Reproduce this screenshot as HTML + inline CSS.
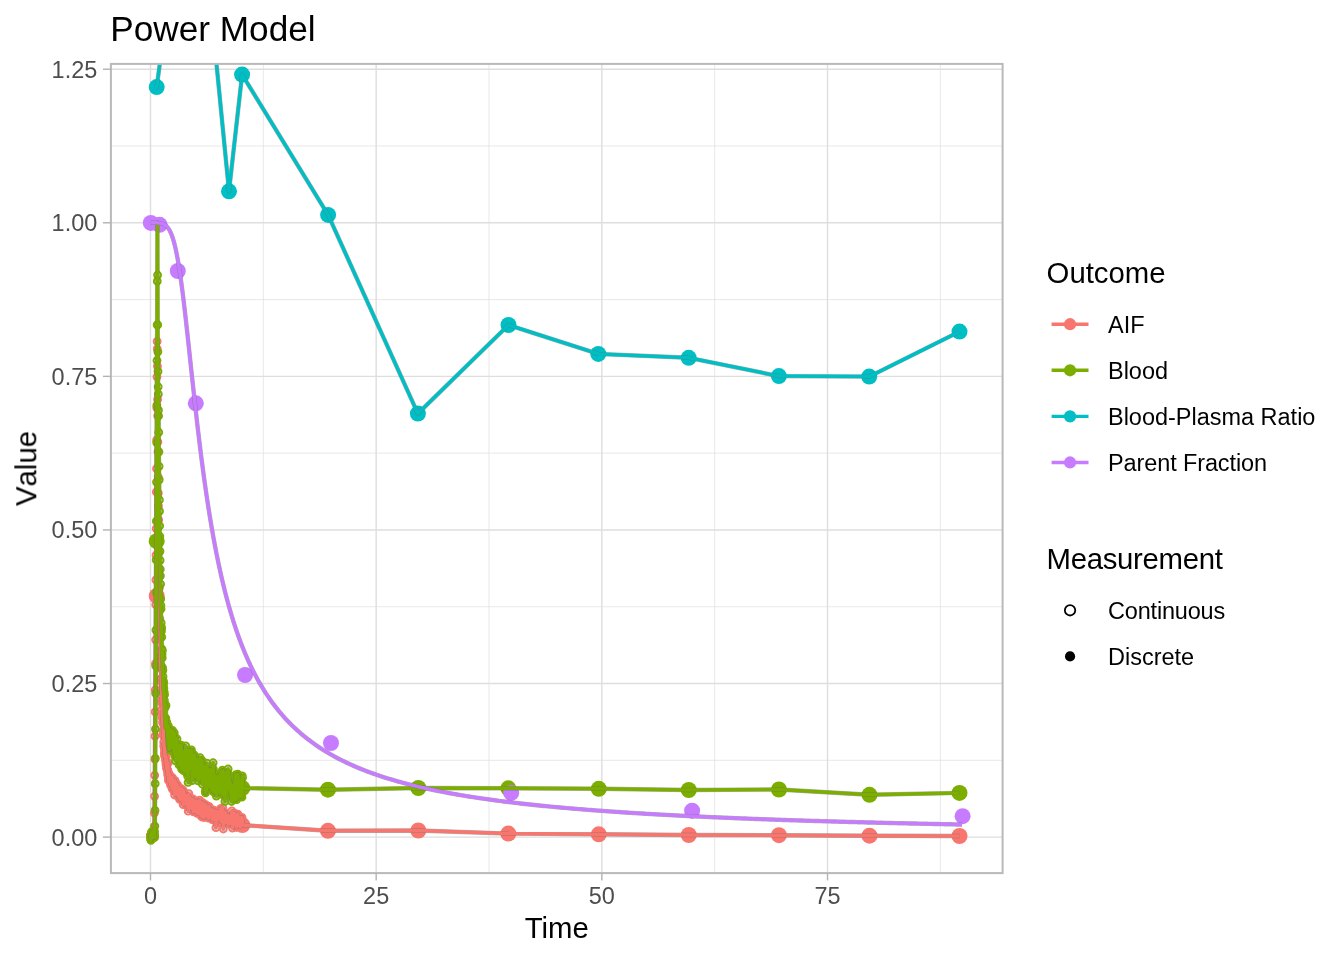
<!DOCTYPE html>
<html><head><meta charset="utf-8"><title>Power Model</title>
<style>html,body{margin:0;padding:0;background:#fff;width:1344px;height:960px;overflow:hidden}</style></head>
<body>
<svg width="1344" height="960" viewBox="0 0 1344 960" style="position:absolute;left:0;top:0;font-family:'Liberation Sans',sans-serif">
<rect width="1344" height="960" fill="#fff"/>
<defs><clipPath id="cp"><rect x="110.9" y="63.9" width="891.7" height="809.2"/></clipPath></defs>
<g clip-path="url(#cp)">
<line x1="110.9" x2="1002.6" y1="760.31" y2="760.31" stroke="#DEDEDE" stroke-width="0.71"/>
<line x1="110.9" x2="1002.6" y1="606.74" y2="606.74" stroke="#DEDEDE" stroke-width="0.71"/>
<line x1="110.9" x2="1002.6" y1="453.16" y2="453.16" stroke="#DEDEDE" stroke-width="0.71"/>
<line x1="110.9" x2="1002.6" y1="299.59" y2="299.59" stroke="#DEDEDE" stroke-width="0.71"/>
<line x1="110.9" x2="1002.6" y1="146.01" y2="146.01" stroke="#DEDEDE" stroke-width="0.71"/>
<line y1="63.9" y2="873.1" x1="263.34" x2="263.34" stroke="#DEDEDE" stroke-width="0.71"/>
<line y1="63.9" y2="873.1" x1="489.01" x2="489.01" stroke="#DEDEDE" stroke-width="0.71"/>
<line y1="63.9" y2="873.1" x1="714.69" x2="714.69" stroke="#DEDEDE" stroke-width="0.71"/>
<line y1="63.9" y2="873.1" x1="940.36" x2="940.36" stroke="#DEDEDE" stroke-width="0.71"/>
<line x1="110.9" x2="1002.6" y1="837.10" y2="837.10" stroke="#DEDEDE" stroke-width="1.42"/>
<line x1="110.9" x2="1002.6" y1="683.53" y2="683.53" stroke="#DEDEDE" stroke-width="1.42"/>
<line x1="110.9" x2="1002.6" y1="529.95" y2="529.95" stroke="#DEDEDE" stroke-width="1.42"/>
<line x1="110.9" x2="1002.6" y1="376.38" y2="376.38" stroke="#DEDEDE" stroke-width="1.42"/>
<line x1="110.9" x2="1002.6" y1="222.80" y2="222.80" stroke="#DEDEDE" stroke-width="1.42"/>
<line x1="110.9" x2="1002.6" y1="69.23" y2="69.23" stroke="#DEDEDE" stroke-width="1.42"/>
<line y1="63.9" y2="873.1" x1="150.50" x2="150.50" stroke="#DEDEDE" stroke-width="1.42"/>
<line y1="63.9" y2="873.1" x1="376.17" x2="376.17" stroke="#DEDEDE" stroke-width="1.42"/>
<line y1="63.9" y2="873.1" x1="601.85" x2="601.85" stroke="#DEDEDE" stroke-width="1.42"/>
<line y1="63.9" y2="873.1" x1="827.52" x2="827.52" stroke="#DEDEDE" stroke-width="1.42"/>
<g fill="none" stroke="#F8766D" stroke-width="1.95"><circle cx="150.50" cy="835.69" r="3.45"/><circle cx="150.65" cy="834.82" r="3.45"/><circle cx="150.80" cy="834.83" r="3.45"/><circle cx="150.95" cy="835.60" r="3.45"/><circle cx="151.10" cy="834.73" r="3.45"/><circle cx="151.25" cy="835.79" r="3.45"/><circle cx="151.40" cy="833.95" r="3.45"/><circle cx="151.55" cy="835.81" r="3.45"/><circle cx="151.70" cy="838.85" r="3.45"/><circle cx="151.85" cy="833.51" r="3.45"/><circle cx="152.00" cy="835.30" r="3.45"/><circle cx="152.15" cy="837.16" r="3.45"/><circle cx="152.31" cy="835.56" r="3.45"/><circle cx="152.46" cy="836.51" r="3.45"/><circle cx="152.61" cy="831.83" r="3.45"/><circle cx="152.76" cy="834.19" r="3.45"/><circle cx="152.91" cy="837.26" r="3.45"/><circle cx="153.06" cy="833.91" r="3.45"/><circle cx="153.21" cy="835.26" r="3.45"/><circle cx="153.36" cy="831.60" r="3.45"/><circle cx="153.51" cy="836.05" r="3.45"/><circle cx="153.66" cy="837.79" r="3.45"/><circle cx="153.81" cy="834.13" r="3.45"/><circle cx="153.96" cy="834.67" r="3.45"/><circle cx="154.11" cy="833.34" r="3.45"/><circle cx="154.26" cy="826.69" r="3.45"/><circle cx="154.41" cy="813.01" r="3.45"/><circle cx="154.56" cy="796.35" r="3.45"/><circle cx="154.71" cy="775.36" r="3.45"/><circle cx="154.86" cy="759.15" r="3.45"/><circle cx="155.01" cy="736.17" r="3.45"/><circle cx="155.16" cy="711.88" r="3.45"/><circle cx="155.31" cy="689.84" r="3.45"/><circle cx="155.46" cy="663.64" r="3.45"/><circle cx="155.62" cy="639.79" r="3.45"/><circle cx="155.77" cy="604.65" r="3.45"/><circle cx="155.92" cy="579.91" r="3.45"/><circle cx="156.07" cy="555.16" r="3.45"/><circle cx="156.22" cy="528.51" r="3.45"/><circle cx="156.37" cy="491.95" r="3.45"/><circle cx="156.52" cy="468.70" r="3.45"/><circle cx="156.67" cy="439.97" r="3.45"/><circle cx="156.82" cy="407.99" r="3.45"/><circle cx="156.97" cy="376.81" r="3.45"/><circle cx="157.12" cy="341.41" r="3.45"/><circle cx="157.27" cy="348.88" r="3.45"/><circle cx="157.42" cy="366.25" r="3.45"/><circle cx="157.57" cy="399.40" r="3.45"/><circle cx="157.72" cy="415.80" r="3.45"/><circle cx="157.87" cy="441.98" r="3.45"/><circle cx="158.02" cy="451.70" r="3.45"/><circle cx="158.17" cy="477.08" r="3.45"/><circle cx="158.32" cy="493.22" r="3.45"/><circle cx="158.47" cy="505.96" r="3.45"/><circle cx="158.62" cy="519.97" r="3.45"/><circle cx="158.77" cy="542.21" r="3.45"/><circle cx="158.93" cy="553.04" r="3.45"/><circle cx="159.08" cy="569.21" r="3.45"/><circle cx="159.23" cy="575.94" r="3.45"/><circle cx="159.38" cy="587.95" r="3.45"/><circle cx="159.53" cy="599.35" r="3.45"/><circle cx="159.68" cy="610.44" r="3.45"/><circle cx="159.83" cy="618.80" r="3.45"/><circle cx="159.98" cy="628.86" r="3.45"/><circle cx="160.13" cy="632.88" r="3.45"/><circle cx="160.28" cy="637.40" r="3.45"/><circle cx="160.43" cy="656.45" r="3.45"/><circle cx="160.58" cy="657.30" r="3.45"/><circle cx="160.73" cy="664.91" r="3.45"/><circle cx="160.88" cy="668.04" r="3.45"/><circle cx="161.03" cy="678.78" r="3.45"/><circle cx="161.18" cy="681.59" r="3.45"/><circle cx="161.33" cy="689.83" r="3.45"/><circle cx="161.48" cy="688.89" r="3.45"/><circle cx="161.63" cy="695.56" r="3.45"/><circle cx="161.78" cy="700.84" r="3.45"/><circle cx="161.93" cy="703.19" r="3.45"/><circle cx="162.08" cy="709.20" r="3.45"/><circle cx="162.24" cy="717.32" r="3.45"/><circle cx="162.39" cy="713.56" r="3.45"/><circle cx="162.54" cy="717.91" r="3.45"/><circle cx="162.69" cy="722.54" r="3.45"/><circle cx="162.84" cy="721.66" r="3.45"/><circle cx="162.99" cy="723.68" r="3.45"/><circle cx="163.14" cy="734.14" r="3.45"/><circle cx="163.29" cy="735.61" r="3.45"/><circle cx="163.44" cy="730.12" r="3.45"/><circle cx="163.59" cy="732.82" r="3.45"/><circle cx="163.74" cy="742.25" r="3.45"/><circle cx="163.89" cy="745.78" r="3.45"/><circle cx="164.04" cy="745.87" r="3.45"/><circle cx="164.19" cy="747.23" r="3.45"/><circle cx="164.34" cy="752.64" r="3.45"/><circle cx="164.49" cy="748.83" r="3.45"/><circle cx="164.64" cy="754.83" r="3.45"/><circle cx="164.79" cy="756.09" r="3.45"/><circle cx="164.94" cy="750.33" r="3.45"/><circle cx="165.09" cy="757.08" r="3.45"/><circle cx="165.24" cy="756.31" r="3.45"/><circle cx="165.39" cy="755.17" r="3.45"/><circle cx="165.54" cy="755.72" r="3.45"/><circle cx="165.70" cy="760.72" r="3.45"/><circle cx="165.85" cy="760.50" r="3.45"/><circle cx="166.00" cy="764.46" r="3.45"/><circle cx="166.15" cy="756.74" r="3.45"/><circle cx="166.30" cy="761.38" r="3.45"/><circle cx="166.45" cy="768.20" r="3.45"/><circle cx="166.60" cy="765.31" r="3.45"/><circle cx="166.75" cy="763.74" r="3.45"/><circle cx="166.90" cy="765.31" r="3.45"/><circle cx="167.05" cy="761.51" r="3.45"/><circle cx="167.20" cy="763.78" r="3.45"/><circle cx="167.35" cy="770.93" r="3.45"/><circle cx="167.50" cy="770.08" r="3.45"/><circle cx="167.65" cy="774.76" r="3.45"/><circle cx="167.80" cy="770.21" r="3.45"/><circle cx="167.95" cy="771.14" r="3.45"/><circle cx="168.10" cy="763.09" r="3.45"/><circle cx="168.25" cy="772.46" r="3.45"/><circle cx="168.40" cy="780.40" r="3.45"/><circle cx="168.55" cy="776.12" r="3.45"/><circle cx="168.70" cy="773.97" r="3.45"/><circle cx="168.85" cy="779.09" r="3.45"/><circle cx="169.01" cy="778.25" r="3.45"/><circle cx="169.16" cy="777.01" r="3.45"/><circle cx="169.31" cy="775.07" r="3.45"/><circle cx="169.46" cy="777.22" r="3.45"/><circle cx="169.61" cy="780.08" r="3.45"/><circle cx="169.76" cy="774.83" r="3.45"/><circle cx="169.91" cy="779.71" r="3.45"/><circle cx="170.06" cy="779.96" r="3.45"/><circle cx="170.21" cy="783.32" r="3.45"/><circle cx="170.36" cy="781.68" r="3.45"/><circle cx="170.51" cy="777.19" r="3.45"/><circle cx="170.66" cy="785.21" r="3.45"/><circle cx="170.81" cy="780.33" r="3.45"/><circle cx="170.96" cy="778.00" r="3.45"/><circle cx="171.11" cy="782.03" r="3.45"/><circle cx="171.26" cy="780.27" r="3.45"/><circle cx="171.41" cy="785.17" r="3.45"/><circle cx="171.56" cy="777.28" r="3.45"/><circle cx="171.71" cy="778.29" r="3.45"/><circle cx="171.86" cy="781.51" r="3.45"/><circle cx="172.01" cy="788.53" r="3.45"/><circle cx="172.16" cy="786.42" r="3.45"/><circle cx="172.32" cy="779.87" r="3.45"/><circle cx="172.47" cy="777.66" r="3.45"/><circle cx="172.62" cy="782.72" r="3.45"/><circle cx="172.77" cy="779.78" r="3.45"/><circle cx="172.92" cy="786.31" r="3.45"/><circle cx="173.07" cy="785.16" r="3.45"/><circle cx="173.22" cy="784.78" r="3.45"/><circle cx="173.37" cy="783.60" r="3.45"/><circle cx="173.52" cy="790.45" r="3.45"/><circle cx="173.67" cy="782.35" r="3.45"/><circle cx="173.82" cy="781.31" r="3.45"/><circle cx="173.97" cy="789.90" r="3.45"/><circle cx="174.12" cy="790.83" r="3.45"/><circle cx="174.27" cy="785.30" r="3.45"/><circle cx="174.42" cy="788.93" r="3.45"/><circle cx="174.57" cy="794.96" r="3.45"/><circle cx="174.72" cy="784.45" r="3.45"/><circle cx="174.87" cy="786.88" r="3.45"/><circle cx="175.02" cy="789.23" r="3.45"/><circle cx="175.17" cy="780.70" r="3.45"/><circle cx="175.32" cy="787.59" r="3.45"/><circle cx="175.47" cy="790.82" r="3.45"/><circle cx="175.63" cy="788.15" r="3.45"/><circle cx="175.78" cy="792.21" r="3.45"/><circle cx="175.93" cy="791.48" r="3.45"/><circle cx="176.08" cy="787.81" r="3.45"/><circle cx="176.23" cy="791.19" r="3.45"/><circle cx="176.38" cy="791.04" r="3.45"/><circle cx="176.53" cy="784.08" r="3.45"/><circle cx="176.68" cy="787.02" r="3.45"/><circle cx="176.83" cy="787.41" r="3.45"/><circle cx="176.98" cy="788.53" r="3.45"/><circle cx="177.13" cy="788.87" r="3.45"/><circle cx="177.28" cy="785.78" r="3.45"/><circle cx="177.43" cy="790.96" r="3.45"/><circle cx="177.58" cy="784.81" r="3.45"/><circle cx="177.73" cy="794.48" r="3.45"/><circle cx="177.88" cy="792.32" r="3.45"/><circle cx="178.03" cy="796.30" r="3.45"/><circle cx="178.18" cy="792.98" r="3.45"/><circle cx="178.33" cy="790.25" r="3.45"/><circle cx="178.48" cy="787.28" r="3.45"/><circle cx="178.63" cy="794.60" r="3.45"/><circle cx="178.78" cy="792.52" r="3.45"/><circle cx="178.94" cy="793.93" r="3.45"/><circle cx="179.09" cy="795.39" r="3.45"/><circle cx="179.24" cy="797.08" r="3.45"/><circle cx="179.39" cy="793.03" r="3.45"/><circle cx="179.54" cy="799.26" r="3.45"/><circle cx="179.69" cy="793.21" r="3.45"/><circle cx="179.84" cy="793.68" r="3.45"/><circle cx="179.99" cy="796.14" r="3.45"/><circle cx="180.14" cy="797.50" r="3.45"/><circle cx="180.29" cy="798.92" r="3.45"/><circle cx="180.44" cy="788.09" r="3.45"/><circle cx="180.59" cy="799.11" r="3.45"/><circle cx="180.74" cy="789.47" r="3.45"/><circle cx="180.89" cy="792.87" r="3.45"/><circle cx="181.04" cy="796.29" r="3.45"/><circle cx="181.19" cy="799.13" r="3.45"/><circle cx="181.34" cy="791.85" r="3.45"/><circle cx="181.49" cy="789.69" r="3.45"/><circle cx="181.64" cy="798.84" r="3.45"/><circle cx="181.79" cy="796.85" r="3.45"/><circle cx="181.94" cy="792.44" r="3.45"/><circle cx="182.09" cy="795.01" r="3.45"/><circle cx="182.24" cy="789.54" r="3.45"/><circle cx="182.40" cy="798.37" r="3.45"/><circle cx="182.55" cy="794.76" r="3.45"/><circle cx="182.70" cy="800.97" r="3.45"/><circle cx="182.85" cy="789.81" r="3.45"/><circle cx="183.00" cy="799.51" r="3.45"/><circle cx="183.15" cy="804.65" r="3.45"/><circle cx="183.30" cy="797.75" r="3.45"/><circle cx="183.45" cy="797.94" r="3.45"/><circle cx="183.60" cy="791.14" r="3.45"/><circle cx="183.75" cy="798.90" r="3.45"/><circle cx="183.90" cy="797.94" r="3.45"/><circle cx="184.05" cy="796.03" r="3.45"/><circle cx="184.20" cy="792.82" r="3.45"/><circle cx="184.35" cy="798.53" r="3.45"/><circle cx="184.50" cy="794.94" r="3.45"/><circle cx="184.65" cy="796.84" r="3.45"/><circle cx="184.80" cy="799.73" r="3.45"/><circle cx="184.95" cy="798.60" r="3.45"/><circle cx="185.10" cy="798.90" r="3.45"/><circle cx="185.25" cy="802.23" r="3.45"/><circle cx="185.40" cy="795.16" r="3.45"/><circle cx="185.55" cy="804.08" r="3.45"/><circle cx="185.71" cy="795.57" r="3.45"/><circle cx="185.86" cy="796.43" r="3.45"/><circle cx="186.01" cy="800.10" r="3.45"/><circle cx="186.16" cy="802.50" r="3.45"/><circle cx="186.31" cy="800.81" r="3.45"/><circle cx="186.46" cy="798.57" r="3.45"/><circle cx="186.61" cy="797.78" r="3.45"/><circle cx="186.76" cy="799.45" r="3.45"/><circle cx="186.91" cy="797.19" r="3.45"/><circle cx="187.06" cy="802.55" r="3.45"/><circle cx="187.21" cy="800.00" r="3.45"/><circle cx="187.36" cy="806.21" r="3.45"/><circle cx="187.51" cy="798.46" r="3.45"/><circle cx="187.66" cy="800.64" r="3.45"/><circle cx="187.81" cy="802.68" r="3.45"/><circle cx="187.96" cy="797.47" r="3.45"/><circle cx="188.11" cy="799.18" r="3.45"/><circle cx="188.26" cy="811.15" r="3.45"/><circle cx="188.41" cy="801.62" r="3.45"/><circle cx="188.56" cy="806.78" r="3.45"/><circle cx="188.71" cy="798.38" r="3.45"/><circle cx="188.86" cy="793.69" r="3.45"/><circle cx="189.02" cy="803.97" r="3.45"/><circle cx="189.17" cy="802.08" r="3.45"/><circle cx="189.32" cy="803.29" r="3.45"/><circle cx="189.47" cy="801.37" r="3.45"/><circle cx="189.62" cy="800.49" r="3.45"/><circle cx="189.77" cy="798.43" r="3.45"/><circle cx="189.92" cy="806.22" r="3.45"/><circle cx="190.07" cy="797.69" r="3.45"/><circle cx="190.22" cy="806.26" r="3.45"/><circle cx="190.37" cy="802.28" r="3.45"/><circle cx="190.52" cy="799.41" r="3.45"/><circle cx="190.67" cy="801.02" r="3.45"/><circle cx="190.82" cy="806.71" r="3.45"/><circle cx="190.97" cy="806.02" r="3.45"/><circle cx="191.12" cy="805.31" r="3.45"/><circle cx="191.27" cy="804.03" r="3.45"/><circle cx="191.42" cy="800.09" r="3.45"/><circle cx="191.57" cy="808.43" r="3.45"/><circle cx="191.72" cy="802.59" r="3.45"/><circle cx="191.87" cy="802.21" r="3.45"/><circle cx="192.02" cy="802.49" r="3.45"/><circle cx="192.17" cy="802.90" r="3.45"/><circle cx="192.33" cy="799.44" r="3.45"/><circle cx="192.48" cy="803.03" r="3.45"/><circle cx="192.63" cy="801.88" r="3.45"/><circle cx="192.78" cy="802.97" r="3.45"/><circle cx="192.93" cy="798.91" r="3.45"/><circle cx="193.08" cy="811.49" r="3.45"/><circle cx="193.23" cy="800.84" r="3.45"/><circle cx="193.38" cy="806.15" r="3.45"/><circle cx="193.53" cy="806.31" r="3.45"/><circle cx="193.68" cy="808.73" r="3.45"/><circle cx="193.83" cy="811.87" r="3.45"/><circle cx="193.98" cy="806.94" r="3.45"/><circle cx="194.13" cy="808.06" r="3.45"/><circle cx="194.28" cy="804.17" r="3.45"/><circle cx="194.43" cy="810.90" r="3.45"/><circle cx="194.58" cy="801.18" r="3.45"/><circle cx="194.73" cy="805.19" r="3.45"/><circle cx="194.88" cy="807.04" r="3.45"/><circle cx="195.03" cy="808.69" r="3.45"/><circle cx="195.18" cy="809.05" r="3.45"/><circle cx="195.33" cy="810.29" r="3.45"/><circle cx="195.48" cy="808.41" r="3.45"/><circle cx="195.63" cy="806.63" r="3.45"/><circle cx="195.79" cy="807.34" r="3.45"/><circle cx="195.94" cy="811.61" r="3.45"/><circle cx="196.09" cy="807.82" r="3.45"/><circle cx="196.24" cy="810.02" r="3.45"/><circle cx="196.39" cy="806.55" r="3.45"/><circle cx="196.54" cy="800.88" r="3.45"/><circle cx="196.69" cy="805.15" r="3.45"/><circle cx="196.84" cy="808.41" r="3.45"/><circle cx="196.99" cy="812.93" r="3.45"/><circle cx="197.14" cy="812.30" r="3.45"/><circle cx="197.29" cy="813.30" r="3.45"/><circle cx="197.44" cy="805.23" r="3.45"/><circle cx="197.59" cy="810.36" r="3.45"/><circle cx="197.74" cy="807.64" r="3.45"/><circle cx="197.89" cy="810.04" r="3.45"/><circle cx="198.04" cy="807.71" r="3.45"/><circle cx="198.19" cy="803.36" r="3.45"/><circle cx="198.34" cy="810.49" r="3.45"/><circle cx="198.49" cy="809.41" r="3.45"/><circle cx="198.64" cy="811.06" r="3.45"/><circle cx="198.79" cy="805.46" r="3.45"/><circle cx="198.94" cy="811.96" r="3.45"/><circle cx="199.10" cy="812.40" r="3.45"/><circle cx="199.25" cy="813.34" r="3.45"/><circle cx="199.40" cy="813.49" r="3.45"/><circle cx="199.55" cy="807.22" r="3.45"/><circle cx="199.70" cy="800.21" r="3.45"/><circle cx="199.85" cy="812.33" r="3.45"/><circle cx="200.00" cy="805.82" r="3.45"/><circle cx="200.15" cy="808.27" r="3.45"/><circle cx="200.30" cy="812.91" r="3.45"/><circle cx="200.45" cy="810.20" r="3.45"/><circle cx="200.60" cy="810.13" r="3.45"/><circle cx="200.75" cy="811.75" r="3.45"/><circle cx="200.90" cy="802.96" r="3.45"/><circle cx="201.05" cy="816.00" r="3.45"/><circle cx="201.20" cy="808.35" r="3.45"/><circle cx="201.35" cy="808.59" r="3.45"/><circle cx="201.50" cy="811.74" r="3.45"/><circle cx="201.65" cy="809.35" r="3.45"/><circle cx="201.80" cy="806.96" r="3.45"/><circle cx="201.95" cy="809.48" r="3.45"/><circle cx="202.10" cy="808.65" r="3.45"/><circle cx="202.25" cy="807.79" r="3.45"/><circle cx="202.41" cy="817.07" r="3.45"/><circle cx="202.56" cy="805.28" r="3.45"/><circle cx="202.71" cy="802.65" r="3.45"/><circle cx="202.86" cy="807.10" r="3.45"/><circle cx="203.01" cy="807.06" r="3.45"/><circle cx="203.16" cy="815.31" r="3.45"/><circle cx="203.31" cy="811.02" r="3.45"/><circle cx="203.46" cy="813.43" r="3.45"/><circle cx="203.61" cy="812.74" r="3.45"/><circle cx="203.76" cy="807.55" r="3.45"/><circle cx="203.91" cy="813.60" r="3.45"/><circle cx="204.06" cy="811.39" r="3.45"/><circle cx="204.21" cy="817.47" r="3.45"/><circle cx="204.36" cy="811.62" r="3.45"/><circle cx="204.51" cy="810.84" r="3.45"/><circle cx="204.66" cy="813.60" r="3.45"/><circle cx="204.81" cy="813.71" r="3.45"/><circle cx="204.96" cy="804.97" r="3.45"/><circle cx="205.11" cy="815.49" r="3.45"/><circle cx="205.26" cy="815.02" r="3.45"/><circle cx="205.41" cy="814.27" r="3.45"/><circle cx="205.56" cy="807.55" r="3.45"/><circle cx="205.72" cy="804.56" r="3.45"/><circle cx="205.87" cy="810.60" r="3.45"/><circle cx="206.02" cy="814.21" r="3.45"/><circle cx="206.17" cy="813.29" r="3.45"/><circle cx="206.32" cy="808.31" r="3.45"/><circle cx="206.47" cy="815.05" r="3.45"/><circle cx="206.62" cy="807.12" r="3.45"/><circle cx="206.77" cy="807.30" r="3.45"/><circle cx="206.92" cy="811.91" r="3.45"/><circle cx="207.07" cy="810.03" r="3.45"/><circle cx="207.22" cy="809.74" r="3.45"/><circle cx="207.37" cy="807.08" r="3.45"/><circle cx="207.52" cy="815.94" r="3.45"/><circle cx="207.67" cy="808.46" r="3.45"/><circle cx="207.82" cy="813.77" r="3.45"/><circle cx="207.97" cy="815.16" r="3.45"/><circle cx="208.12" cy="812.27" r="3.45"/><circle cx="208.27" cy="813.40" r="3.45"/><circle cx="208.42" cy="816.07" r="3.45"/><circle cx="208.57" cy="818.19" r="3.45"/><circle cx="208.72" cy="816.03" r="3.45"/><circle cx="208.87" cy="808.00" r="3.45"/><circle cx="209.03" cy="806.33" r="3.45"/><circle cx="209.18" cy="810.82" r="3.45"/><circle cx="209.33" cy="809.07" r="3.45"/><circle cx="209.48" cy="814.88" r="3.45"/><circle cx="209.63" cy="813.45" r="3.45"/><circle cx="209.78" cy="812.29" r="3.45"/><circle cx="209.93" cy="816.95" r="3.45"/><circle cx="210.08" cy="816.70" r="3.45"/><circle cx="210.23" cy="813.08" r="3.45"/><circle cx="210.38" cy="814.54" r="3.45"/><circle cx="210.53" cy="817.11" r="3.45"/><circle cx="210.68" cy="812.26" r="3.45"/><circle cx="210.83" cy="814.51" r="3.45"/><circle cx="210.98" cy="810.22" r="3.45"/><circle cx="211.13" cy="813.74" r="3.45"/><circle cx="211.28" cy="814.79" r="3.45"/><circle cx="211.43" cy="813.40" r="3.45"/><circle cx="211.58" cy="814.46" r="3.45"/><circle cx="211.73" cy="816.19" r="3.45"/><circle cx="211.88" cy="815.34" r="3.45"/><circle cx="212.03" cy="811.51" r="3.45"/><circle cx="212.18" cy="811.90" r="3.45"/><circle cx="212.33" cy="809.79" r="3.45"/><circle cx="212.49" cy="819.91" r="3.45"/><circle cx="212.64" cy="815.57" r="3.45"/><circle cx="212.79" cy="815.69" r="3.45"/><circle cx="212.94" cy="813.76" r="3.45"/><circle cx="213.09" cy="815.92" r="3.45"/><circle cx="213.24" cy="816.17" r="3.45"/><circle cx="213.39" cy="811.84" r="3.45"/><circle cx="213.54" cy="813.94" r="3.45"/><circle cx="213.69" cy="818.53" r="3.45"/><circle cx="213.84" cy="810.13" r="3.45"/><circle cx="213.99" cy="811.32" r="3.45"/><circle cx="214.14" cy="816.67" r="3.45"/><circle cx="214.29" cy="811.97" r="3.45"/><circle cx="214.44" cy="817.31" r="3.45"/><circle cx="214.59" cy="811.07" r="3.45"/><circle cx="214.74" cy="815.66" r="3.45"/><circle cx="214.89" cy="817.68" r="3.45"/><circle cx="215.04" cy="816.28" r="3.45"/><circle cx="215.19" cy="817.65" r="3.45"/><circle cx="215.34" cy="814.46" r="3.45"/><circle cx="215.49" cy="814.57" r="3.45"/><circle cx="215.64" cy="815.08" r="3.45"/><circle cx="215.80" cy="817.13" r="3.45"/><circle cx="215.95" cy="827.67" r="3.45"/><circle cx="216.10" cy="815.03" r="3.45"/><circle cx="216.25" cy="821.79" r="3.45"/><circle cx="216.40" cy="814.61" r="3.45"/><circle cx="216.55" cy="811.66" r="3.45"/><circle cx="216.70" cy="814.60" r="3.45"/><circle cx="216.85" cy="816.88" r="3.45"/><circle cx="217.00" cy="816.22" r="3.45"/><circle cx="217.15" cy="816.11" r="3.45"/><circle cx="217.30" cy="817.56" r="3.45"/><circle cx="217.45" cy="817.72" r="3.45"/><circle cx="217.60" cy="818.91" r="3.45"/><circle cx="217.75" cy="811.82" r="3.45"/><circle cx="217.90" cy="815.93" r="3.45"/><circle cx="218.05" cy="812.69" r="3.45"/><circle cx="218.20" cy="816.81" r="3.45"/><circle cx="218.35" cy="815.76" r="3.45"/><circle cx="218.50" cy="816.62" r="3.45"/><circle cx="218.65" cy="814.53" r="3.45"/><circle cx="218.80" cy="813.34" r="3.45"/><circle cx="218.95" cy="815.36" r="3.45"/><circle cx="219.11" cy="818.49" r="3.45"/><circle cx="219.26" cy="818.89" r="3.45"/><circle cx="219.41" cy="810.69" r="3.45"/><circle cx="219.56" cy="817.29" r="3.45"/><circle cx="219.71" cy="817.37" r="3.45"/><circle cx="219.86" cy="811.47" r="3.45"/><circle cx="220.01" cy="812.79" r="3.45"/><circle cx="220.16" cy="814.70" r="3.45"/><circle cx="220.31" cy="817.89" r="3.45"/><circle cx="220.46" cy="808.63" r="3.45"/><circle cx="220.61" cy="815.30" r="3.45"/><circle cx="220.76" cy="814.82" r="3.45"/><circle cx="220.91" cy="817.28" r="3.45"/><circle cx="221.06" cy="821.52" r="3.45"/><circle cx="221.21" cy="821.30" r="3.45"/><circle cx="221.36" cy="815.45" r="3.45"/><circle cx="221.51" cy="815.54" r="3.45"/><circle cx="221.66" cy="817.71" r="3.45"/><circle cx="221.81" cy="820.90" r="3.45"/><circle cx="221.96" cy="821.85" r="3.45"/><circle cx="222.11" cy="818.13" r="3.45"/><circle cx="222.26" cy="821.98" r="3.45"/><circle cx="222.42" cy="814.06" r="3.45"/><circle cx="222.57" cy="813.24" r="3.45"/><circle cx="222.72" cy="807.62" r="3.45"/><circle cx="222.87" cy="814.24" r="3.45"/><circle cx="223.02" cy="819.25" r="3.45"/><circle cx="223.17" cy="820.23" r="3.45"/><circle cx="223.32" cy="828.99" r="3.45"/><circle cx="223.47" cy="819.37" r="3.45"/><circle cx="223.62" cy="818.00" r="3.45"/><circle cx="223.77" cy="814.17" r="3.45"/><circle cx="223.92" cy="815.41" r="3.45"/><circle cx="224.07" cy="815.52" r="3.45"/><circle cx="224.22" cy="816.83" r="3.45"/><circle cx="224.37" cy="815.35" r="3.45"/><circle cx="224.52" cy="812.73" r="3.45"/><circle cx="224.67" cy="821.25" r="3.45"/><circle cx="224.82" cy="819.24" r="3.45"/><circle cx="224.97" cy="822.42" r="3.45"/><circle cx="225.12" cy="812.30" r="3.45"/><circle cx="225.27" cy="813.42" r="3.45"/><circle cx="225.42" cy="815.29" r="3.45"/><circle cx="225.57" cy="821.92" r="3.45"/><circle cx="225.72" cy="817.32" r="3.45"/><circle cx="225.88" cy="818.74" r="3.45"/><circle cx="226.03" cy="817.70" r="3.45"/><circle cx="226.18" cy="818.65" r="3.45"/><circle cx="226.33" cy="816.29" r="3.45"/><circle cx="226.48" cy="819.42" r="3.45"/><circle cx="226.63" cy="815.23" r="3.45"/><circle cx="226.78" cy="817.34" r="3.45"/><circle cx="226.93" cy="819.18" r="3.45"/><circle cx="227.08" cy="818.60" r="3.45"/><circle cx="227.23" cy="819.74" r="3.45"/><circle cx="227.38" cy="815.54" r="3.45"/><circle cx="227.53" cy="819.24" r="3.45"/><circle cx="227.68" cy="817.36" r="3.45"/><circle cx="227.83" cy="819.72" r="3.45"/><circle cx="227.98" cy="823.44" r="3.45"/><circle cx="228.13" cy="815.40" r="3.45"/><circle cx="228.28" cy="822.06" r="3.45"/><circle cx="228.43" cy="816.23" r="3.45"/><circle cx="228.58" cy="817.14" r="3.45"/><circle cx="228.73" cy="824.18" r="3.45"/><circle cx="228.88" cy="821.81" r="3.45"/><circle cx="229.03" cy="820.39" r="3.45"/><circle cx="229.19" cy="821.46" r="3.45"/><circle cx="229.34" cy="822.71" r="3.45"/><circle cx="229.49" cy="816.25" r="3.45"/><circle cx="229.64" cy="819.59" r="3.45"/><circle cx="229.79" cy="817.51" r="3.45"/><circle cx="229.94" cy="820.30" r="3.45"/><circle cx="230.09" cy="817.85" r="3.45"/><circle cx="230.24" cy="821.45" r="3.45"/><circle cx="230.39" cy="819.03" r="3.45"/><circle cx="230.54" cy="817.01" r="3.45"/><circle cx="230.69" cy="818.85" r="3.45"/><circle cx="230.84" cy="820.58" r="3.45"/><circle cx="230.99" cy="822.74" r="3.45"/><circle cx="231.14" cy="818.53" r="3.45"/><circle cx="231.29" cy="817.97" r="3.45"/><circle cx="231.44" cy="820.04" r="3.45"/><circle cx="231.59" cy="821.79" r="3.45"/><circle cx="231.74" cy="817.39" r="3.45"/><circle cx="231.89" cy="810.87" r="3.45"/><circle cx="232.04" cy="820.31" r="3.45"/><circle cx="232.19" cy="818.18" r="3.45"/><circle cx="232.34" cy="818.07" r="3.45"/><circle cx="232.50" cy="828.05" r="3.45"/><circle cx="232.65" cy="818.99" r="3.45"/><circle cx="232.80" cy="821.82" r="3.45"/><circle cx="232.95" cy="814.79" r="3.45"/><circle cx="233.10" cy="820.36" r="3.45"/><circle cx="233.25" cy="822.15" r="3.45"/><circle cx="233.40" cy="820.30" r="3.45"/><circle cx="233.55" cy="819.02" r="3.45"/><circle cx="233.70" cy="821.51" r="3.45"/><circle cx="233.85" cy="819.82" r="3.45"/><circle cx="234.00" cy="824.25" r="3.45"/><circle cx="234.15" cy="820.47" r="3.45"/><circle cx="234.30" cy="817.11" r="3.45"/><circle cx="234.45" cy="813.11" r="3.45"/><circle cx="234.60" cy="817.40" r="3.45"/><circle cx="234.75" cy="818.90" r="3.45"/><circle cx="234.90" cy="815.85" r="3.45"/><circle cx="235.05" cy="816.43" r="3.45"/><circle cx="235.20" cy="814.28" r="3.45"/><circle cx="235.35" cy="816.28" r="3.45"/><circle cx="235.50" cy="820.36" r="3.45"/><circle cx="235.65" cy="819.12" r="3.45"/><circle cx="235.81" cy="819.41" r="3.45"/><circle cx="235.96" cy="819.03" r="3.45"/><circle cx="236.11" cy="819.40" r="3.45"/><circle cx="236.26" cy="822.75" r="3.45"/><circle cx="236.41" cy="827.24" r="3.45"/><circle cx="236.56" cy="822.43" r="3.45"/><circle cx="236.71" cy="827.03" r="3.45"/><circle cx="236.86" cy="819.99" r="3.45"/><circle cx="237.01" cy="820.23" r="3.45"/><circle cx="237.16" cy="825.93" r="3.45"/><circle cx="237.31" cy="817.97" r="3.45"/><circle cx="237.46" cy="817.40" r="3.45"/><circle cx="237.61" cy="820.03" r="3.45"/><circle cx="237.76" cy="814.75" r="3.45"/><circle cx="237.91" cy="814.08" r="3.45"/><circle cx="238.06" cy="824.51" r="3.45"/><circle cx="238.21" cy="816.96" r="3.45"/><circle cx="238.36" cy="819.00" r="3.45"/><circle cx="238.51" cy="819.10" r="3.45"/><circle cx="238.66" cy="817.38" r="3.45"/><circle cx="238.81" cy="823.00" r="3.45"/><circle cx="238.96" cy="822.60" r="3.45"/><circle cx="239.12" cy="823.41" r="3.45"/><circle cx="239.27" cy="823.20" r="3.45"/><circle cx="239.42" cy="821.01" r="3.45"/><circle cx="239.57" cy="825.60" r="3.45"/><circle cx="239.72" cy="824.26" r="3.45"/><circle cx="239.87" cy="818.80" r="3.45"/><circle cx="240.02" cy="821.02" r="3.45"/><circle cx="240.17" cy="819.51" r="3.45"/><circle cx="240.32" cy="827.21" r="3.45"/><circle cx="240.47" cy="823.50" r="3.45"/><circle cx="240.62" cy="822.76" r="3.45"/><circle cx="240.77" cy="820.80" r="3.45"/><circle cx="240.92" cy="822.91" r="3.45"/><circle cx="241.07" cy="817.80" r="3.45"/><circle cx="241.22" cy="821.18" r="3.45"/><circle cx="241.37" cy="820.95" r="3.45"/><circle cx="241.52" cy="820.99" r="3.45"/><circle cx="241.67" cy="818.67" r="3.45"/><circle cx="241.82" cy="822.68" r="3.45"/><circle cx="241.97" cy="817.32" r="3.45"/><circle cx="242.12" cy="819.58" r="3.45"/><circle cx="242.27" cy="820.64" r="3.45"/><circle cx="242.42" cy="821.04" r="3.45"/></g>
<g fill="#F8766D"><circle cx="156.70" cy="595.90" r="8.0"/><circle cx="242.39" cy="825.10" r="8.0"/><circle cx="327.97" cy="830.80" r="8.0"/><circle cx="418.33" cy="830.50" r="8.0"/><circle cx="508.33" cy="833.60" r="8.0"/><circle cx="598.78" cy="834.30" r="8.0"/><circle cx="688.78" cy="835.00" r="8.0"/><circle cx="778.96" cy="835.20" r="8.0"/><circle cx="869.50" cy="835.70" r="8.0"/><circle cx="959.50" cy="836.00" r="8.0"/></g>
<g fill="none" stroke="#7CAE00" stroke-width="1.95"><circle cx="150.50" cy="838.65" r="3.45"/><circle cx="150.65" cy="837.02" r="3.45"/><circle cx="150.80" cy="834.90" r="3.45"/><circle cx="150.95" cy="840.42" r="3.45"/><circle cx="151.10" cy="836.93" r="3.45"/><circle cx="151.25" cy="835.08" r="3.45"/><circle cx="151.40" cy="834.60" r="3.45"/><circle cx="151.55" cy="831.94" r="3.45"/><circle cx="151.70" cy="833.19" r="3.45"/><circle cx="151.85" cy="835.19" r="3.45"/><circle cx="152.00" cy="835.09" r="3.45"/><circle cx="152.15" cy="833.72" r="3.45"/><circle cx="152.31" cy="837.02" r="3.45"/><circle cx="152.46" cy="835.61" r="3.45"/><circle cx="152.61" cy="833.04" r="3.45"/><circle cx="152.76" cy="830.96" r="3.45"/><circle cx="152.91" cy="835.55" r="3.45"/><circle cx="153.06" cy="835.14" r="3.45"/><circle cx="153.21" cy="834.38" r="3.45"/><circle cx="153.36" cy="831.30" r="3.45"/><circle cx="153.51" cy="834.72" r="3.45"/><circle cx="153.66" cy="830.73" r="3.45"/><circle cx="153.81" cy="836.89" r="3.45"/><circle cx="153.96" cy="834.75" r="3.45"/><circle cx="154.11" cy="834.66" r="3.45"/><circle cx="154.26" cy="832.00" r="3.45"/><circle cx="154.41" cy="831.21" r="3.45"/><circle cx="154.56" cy="837.47" r="3.45"/><circle cx="154.71" cy="836.02" r="3.45"/><circle cx="154.86" cy="826.07" r="3.45"/><circle cx="155.01" cy="810.37" r="3.45"/><circle cx="155.16" cy="783.69" r="3.45"/><circle cx="155.31" cy="758.37" r="3.45"/><circle cx="155.46" cy="729.06" r="3.45"/><circle cx="155.62" cy="693.36" r="3.45"/><circle cx="155.77" cy="665.95" r="3.45"/><circle cx="155.92" cy="630.05" r="3.45"/><circle cx="156.07" cy="592.45" r="3.45"/><circle cx="156.22" cy="559.96" r="3.45"/><circle cx="156.37" cy="521.19" r="3.45"/><circle cx="156.52" cy="482.02" r="3.45"/><circle cx="156.67" cy="442.56" r="3.45"/><circle cx="156.82" cy="405.47" r="3.45"/><circle cx="156.97" cy="360.61" r="3.45"/><circle cx="157.12" cy="324.77" r="3.45"/><circle cx="157.27" cy="281.16" r="3.45"/><circle cx="157.42" cy="222.80" r="3.45"/><circle cx="157.57" cy="275.02" r="3.45"/><circle cx="157.72" cy="324.77" r="3.45"/><circle cx="157.87" cy="351.80" r="3.45"/><circle cx="158.02" cy="371.46" r="3.45"/><circle cx="158.17" cy="386.82" r="3.45"/><circle cx="158.32" cy="394.19" r="3.45"/><circle cx="158.47" cy="410.16" r="3.45"/><circle cx="158.62" cy="415.92" r="3.45"/><circle cx="158.77" cy="432.27" r="3.45"/><circle cx="158.93" cy="451.79" r="3.45"/><circle cx="159.08" cy="466.32" r="3.45"/><circle cx="159.23" cy="479.75" r="3.45"/><circle cx="159.38" cy="499.91" r="3.45"/><circle cx="159.53" cy="511.24" r="3.45"/><circle cx="159.68" cy="525.86" r="3.45"/><circle cx="159.83" cy="536.37" r="3.45"/><circle cx="159.98" cy="551.21" r="3.45"/><circle cx="160.13" cy="560.27" r="3.45"/><circle cx="160.28" cy="569.29" r="3.45"/><circle cx="160.43" cy="575.82" r="3.45"/><circle cx="160.58" cy="584.05" r="3.45"/><circle cx="160.73" cy="598.96" r="3.45"/><circle cx="160.88" cy="605.41" r="3.45"/><circle cx="161.03" cy="608.99" r="3.45"/><circle cx="161.18" cy="622.95" r="3.45"/><circle cx="161.33" cy="627.30" r="3.45"/><circle cx="161.48" cy="631.04" r="3.45"/><circle cx="161.63" cy="627.88" r="3.45"/><circle cx="161.78" cy="637.12" r="3.45"/><circle cx="161.93" cy="649.03" r="3.45"/><circle cx="162.08" cy="654.17" r="3.45"/><circle cx="162.24" cy="657.98" r="3.45"/><circle cx="162.39" cy="650.54" r="3.45"/><circle cx="162.54" cy="667.57" r="3.45"/><circle cx="162.69" cy="670.60" r="3.45"/><circle cx="162.84" cy="669.88" r="3.45"/><circle cx="162.99" cy="676.46" r="3.45"/><circle cx="163.14" cy="680.21" r="3.45"/><circle cx="163.29" cy="689.36" r="3.45"/><circle cx="163.44" cy="684.95" r="3.45"/><circle cx="163.59" cy="690.55" r="3.45"/><circle cx="163.74" cy="682.47" r="3.45"/><circle cx="163.89" cy="688.33" r="3.45"/><circle cx="164.04" cy="695.15" r="3.45"/><circle cx="164.19" cy="691.91" r="3.45"/><circle cx="164.34" cy="700.24" r="3.45"/><circle cx="164.49" cy="694.60" r="3.45"/><circle cx="164.64" cy="705.04" r="3.45"/><circle cx="164.79" cy="703.74" r="3.45"/><circle cx="164.94" cy="717.67" r="3.45"/><circle cx="165.09" cy="707.42" r="3.45"/><circle cx="165.24" cy="721.90" r="3.45"/><circle cx="165.39" cy="727.73" r="3.45"/><circle cx="165.54" cy="718.32" r="3.45"/><circle cx="165.70" cy="723.77" r="3.45"/><circle cx="165.85" cy="718.34" r="3.45"/><circle cx="166.00" cy="705.42" r="3.45"/><circle cx="166.15" cy="726.80" r="3.45"/><circle cx="166.30" cy="726.08" r="3.45"/><circle cx="166.45" cy="722.09" r="3.45"/><circle cx="166.60" cy="721.97" r="3.45"/><circle cx="166.75" cy="727.64" r="3.45"/><circle cx="166.90" cy="728.81" r="3.45"/><circle cx="167.05" cy="724.54" r="3.45"/><circle cx="167.20" cy="726.71" r="3.45"/><circle cx="167.35" cy="736.93" r="3.45"/><circle cx="167.50" cy="731.13" r="3.45"/><circle cx="167.65" cy="731.09" r="3.45"/><circle cx="167.80" cy="738.10" r="3.45"/><circle cx="167.95" cy="729.18" r="3.45"/><circle cx="168.10" cy="737.90" r="3.45"/><circle cx="168.25" cy="725.66" r="3.45"/><circle cx="168.40" cy="730.59" r="3.45"/><circle cx="168.55" cy="731.36" r="3.45"/><circle cx="168.70" cy="737.60" r="3.45"/><circle cx="168.85" cy="735.38" r="3.45"/><circle cx="169.01" cy="749.02" r="3.45"/><circle cx="169.16" cy="742.29" r="3.45"/><circle cx="169.31" cy="733.64" r="3.45"/><circle cx="169.46" cy="749.84" r="3.45"/><circle cx="169.61" cy="731.04" r="3.45"/><circle cx="169.76" cy="748.09" r="3.45"/><circle cx="169.91" cy="732.18" r="3.45"/><circle cx="170.06" cy="742.62" r="3.45"/><circle cx="170.21" cy="731.64" r="3.45"/><circle cx="170.36" cy="736.30" r="3.45"/><circle cx="170.51" cy="747.64" r="3.45"/><circle cx="170.66" cy="730.07" r="3.45"/><circle cx="170.81" cy="729.76" r="3.45"/><circle cx="170.96" cy="738.28" r="3.45"/><circle cx="171.11" cy="739.96" r="3.45"/><circle cx="171.26" cy="738.98" r="3.45"/><circle cx="171.41" cy="744.89" r="3.45"/><circle cx="171.56" cy="731.08" r="3.45"/><circle cx="171.71" cy="741.82" r="3.45"/><circle cx="171.86" cy="737.27" r="3.45"/><circle cx="172.01" cy="742.40" r="3.45"/><circle cx="172.16" cy="742.42" r="3.45"/><circle cx="172.32" cy="746.88" r="3.45"/><circle cx="172.47" cy="730.42" r="3.45"/><circle cx="172.62" cy="740.81" r="3.45"/><circle cx="172.77" cy="734.02" r="3.45"/><circle cx="172.92" cy="741.91" r="3.45"/><circle cx="173.07" cy="745.92" r="3.45"/><circle cx="173.22" cy="745.12" r="3.45"/><circle cx="173.37" cy="745.47" r="3.45"/><circle cx="173.52" cy="741.83" r="3.45"/><circle cx="173.67" cy="745.29" r="3.45"/><circle cx="173.82" cy="744.97" r="3.45"/><circle cx="173.97" cy="752.86" r="3.45"/><circle cx="174.12" cy="748.95" r="3.45"/><circle cx="174.27" cy="732.76" r="3.45"/><circle cx="174.42" cy="748.72" r="3.45"/><circle cx="174.57" cy="750.43" r="3.45"/><circle cx="174.72" cy="743.50" r="3.45"/><circle cx="174.87" cy="736.96" r="3.45"/><circle cx="175.02" cy="756.30" r="3.45"/><circle cx="175.17" cy="748.21" r="3.45"/><circle cx="175.32" cy="751.89" r="3.45"/><circle cx="175.47" cy="760.86" r="3.45"/><circle cx="175.63" cy="745.88" r="3.45"/><circle cx="175.78" cy="751.76" r="3.45"/><circle cx="175.93" cy="750.07" r="3.45"/><circle cx="176.08" cy="754.53" r="3.45"/><circle cx="176.23" cy="745.45" r="3.45"/><circle cx="176.38" cy="751.80" r="3.45"/><circle cx="176.53" cy="749.10" r="3.45"/><circle cx="176.68" cy="755.42" r="3.45"/><circle cx="176.83" cy="755.90" r="3.45"/><circle cx="176.98" cy="739.00" r="3.45"/><circle cx="177.13" cy="752.27" r="3.45"/><circle cx="177.28" cy="747.54" r="3.45"/><circle cx="177.43" cy="750.19" r="3.45"/><circle cx="177.58" cy="753.91" r="3.45"/><circle cx="177.73" cy="755.03" r="3.45"/><circle cx="177.88" cy="747.76" r="3.45"/><circle cx="178.03" cy="755.31" r="3.45"/><circle cx="178.18" cy="753.99" r="3.45"/><circle cx="178.33" cy="753.38" r="3.45"/><circle cx="178.48" cy="745.24" r="3.45"/><circle cx="178.63" cy="748.58" r="3.45"/><circle cx="178.78" cy="752.27" r="3.45"/><circle cx="178.94" cy="758.78" r="3.45"/><circle cx="179.09" cy="764.99" r="3.45"/><circle cx="179.24" cy="748.92" r="3.45"/><circle cx="179.39" cy="747.61" r="3.45"/><circle cx="179.54" cy="754.14" r="3.45"/><circle cx="179.69" cy="750.70" r="3.45"/><circle cx="179.84" cy="749.75" r="3.45"/><circle cx="179.99" cy="750.60" r="3.45"/><circle cx="180.14" cy="749.11" r="3.45"/><circle cx="180.29" cy="759.11" r="3.45"/><circle cx="180.44" cy="747.43" r="3.45"/><circle cx="180.59" cy="765.04" r="3.45"/><circle cx="180.74" cy="750.61" r="3.45"/><circle cx="180.89" cy="753.89" r="3.45"/><circle cx="181.04" cy="751.77" r="3.45"/><circle cx="181.19" cy="745.11" r="3.45"/><circle cx="181.34" cy="747.67" r="3.45"/><circle cx="181.49" cy="765.18" r="3.45"/><circle cx="181.64" cy="769.09" r="3.45"/><circle cx="181.79" cy="751.72" r="3.45"/><circle cx="181.94" cy="763.87" r="3.45"/><circle cx="182.09" cy="756.34" r="3.45"/><circle cx="182.24" cy="750.88" r="3.45"/><circle cx="182.40" cy="766.60" r="3.45"/><circle cx="182.55" cy="769.53" r="3.45"/><circle cx="182.70" cy="753.46" r="3.45"/><circle cx="182.85" cy="755.54" r="3.45"/><circle cx="183.00" cy="758.62" r="3.45"/><circle cx="183.15" cy="757.09" r="3.45"/><circle cx="183.30" cy="764.11" r="3.45"/><circle cx="183.45" cy="768.18" r="3.45"/><circle cx="183.60" cy="760.16" r="3.45"/><circle cx="183.75" cy="765.44" r="3.45"/><circle cx="183.90" cy="770.97" r="3.45"/><circle cx="184.05" cy="756.81" r="3.45"/><circle cx="184.20" cy="759.61" r="3.45"/><circle cx="184.35" cy="757.60" r="3.45"/><circle cx="184.50" cy="767.48" r="3.45"/><circle cx="184.65" cy="765.22" r="3.45"/><circle cx="184.80" cy="768.17" r="3.45"/><circle cx="184.95" cy="767.34" r="3.45"/><circle cx="185.10" cy="760.42" r="3.45"/><circle cx="185.25" cy="765.84" r="3.45"/><circle cx="185.40" cy="756.80" r="3.45"/><circle cx="185.55" cy="756.88" r="3.45"/><circle cx="185.71" cy="745.98" r="3.45"/><circle cx="185.86" cy="769.48" r="3.45"/><circle cx="186.01" cy="754.96" r="3.45"/><circle cx="186.16" cy="763.20" r="3.45"/><circle cx="186.31" cy="762.99" r="3.45"/><circle cx="186.46" cy="772.99" r="3.45"/><circle cx="186.61" cy="765.84" r="3.45"/><circle cx="186.76" cy="757.02" r="3.45"/><circle cx="186.91" cy="763.50" r="3.45"/><circle cx="187.06" cy="762.19" r="3.45"/><circle cx="187.21" cy="765.67" r="3.45"/><circle cx="187.36" cy="755.38" r="3.45"/><circle cx="187.51" cy="762.57" r="3.45"/><circle cx="187.66" cy="776.12" r="3.45"/><circle cx="187.81" cy="765.61" r="3.45"/><circle cx="187.96" cy="773.25" r="3.45"/><circle cx="188.11" cy="782.39" r="3.45"/><circle cx="188.26" cy="764.44" r="3.45"/><circle cx="188.41" cy="750.60" r="3.45"/><circle cx="188.56" cy="759.43" r="3.45"/><circle cx="188.71" cy="767.22" r="3.45"/><circle cx="188.86" cy="764.94" r="3.45"/><circle cx="189.02" cy="751.63" r="3.45"/><circle cx="189.17" cy="759.15" r="3.45"/><circle cx="189.32" cy="759.79" r="3.45"/><circle cx="189.47" cy="760.91" r="3.45"/><circle cx="189.62" cy="760.15" r="3.45"/><circle cx="189.77" cy="755.20" r="3.45"/><circle cx="189.92" cy="756.91" r="3.45"/><circle cx="190.07" cy="759.09" r="3.45"/><circle cx="190.22" cy="767.44" r="3.45"/><circle cx="190.37" cy="756.98" r="3.45"/><circle cx="190.52" cy="765.18" r="3.45"/><circle cx="190.67" cy="754.02" r="3.45"/><circle cx="190.82" cy="768.75" r="3.45"/><circle cx="190.97" cy="760.17" r="3.45"/><circle cx="191.12" cy="759.87" r="3.45"/><circle cx="191.27" cy="769.17" r="3.45"/><circle cx="191.42" cy="750.00" r="3.45"/><circle cx="191.57" cy="751.98" r="3.45"/><circle cx="191.72" cy="765.39" r="3.45"/><circle cx="191.87" cy="758.04" r="3.45"/><circle cx="192.02" cy="760.74" r="3.45"/><circle cx="192.17" cy="780.58" r="3.45"/><circle cx="192.33" cy="762.02" r="3.45"/><circle cx="192.48" cy="764.29" r="3.45"/><circle cx="192.63" cy="764.09" r="3.45"/><circle cx="192.78" cy="772.17" r="3.45"/><circle cx="192.93" cy="766.61" r="3.45"/><circle cx="193.08" cy="767.35" r="3.45"/><circle cx="193.23" cy="757.99" r="3.45"/><circle cx="193.38" cy="763.23" r="3.45"/><circle cx="193.53" cy="765.27" r="3.45"/><circle cx="193.68" cy="755.07" r="3.45"/><circle cx="193.83" cy="768.64" r="3.45"/><circle cx="193.98" cy="767.81" r="3.45"/><circle cx="194.13" cy="776.68" r="3.45"/><circle cx="194.28" cy="755.01" r="3.45"/><circle cx="194.43" cy="757.98" r="3.45"/><circle cx="194.58" cy="760.03" r="3.45"/><circle cx="194.73" cy="762.03" r="3.45"/><circle cx="194.88" cy="766.27" r="3.45"/><circle cx="195.03" cy="766.80" r="3.45"/><circle cx="195.18" cy="769.97" r="3.45"/><circle cx="195.33" cy="770.57" r="3.45"/><circle cx="195.48" cy="769.39" r="3.45"/><circle cx="195.63" cy="758.20" r="3.45"/><circle cx="195.79" cy="765.59" r="3.45"/><circle cx="195.94" cy="771.77" r="3.45"/><circle cx="196.09" cy="773.67" r="3.45"/><circle cx="196.24" cy="774.59" r="3.45"/><circle cx="196.39" cy="759.25" r="3.45"/><circle cx="196.54" cy="766.41" r="3.45"/><circle cx="196.69" cy="770.56" r="3.45"/><circle cx="196.84" cy="772.84" r="3.45"/><circle cx="196.99" cy="777.46" r="3.45"/><circle cx="197.14" cy="770.91" r="3.45"/><circle cx="197.29" cy="764.67" r="3.45"/><circle cx="197.44" cy="772.93" r="3.45"/><circle cx="197.59" cy="772.05" r="3.45"/><circle cx="197.74" cy="772.17" r="3.45"/><circle cx="197.89" cy="769.88" r="3.45"/><circle cx="198.04" cy="780.81" r="3.45"/><circle cx="198.19" cy="772.91" r="3.45"/><circle cx="198.34" cy="776.73" r="3.45"/><circle cx="198.49" cy="765.25" r="3.45"/><circle cx="198.64" cy="775.95" r="3.45"/><circle cx="198.79" cy="765.87" r="3.45"/><circle cx="198.94" cy="760.01" r="3.45"/><circle cx="199.10" cy="771.75" r="3.45"/><circle cx="199.25" cy="774.37" r="3.45"/><circle cx="199.40" cy="770.64" r="3.45"/><circle cx="199.55" cy="771.05" r="3.45"/><circle cx="199.70" cy="777.42" r="3.45"/><circle cx="199.85" cy="768.40" r="3.45"/><circle cx="200.00" cy="757.62" r="3.45"/><circle cx="200.15" cy="773.25" r="3.45"/><circle cx="200.30" cy="773.12" r="3.45"/><circle cx="200.45" cy="777.28" r="3.45"/><circle cx="200.60" cy="767.94" r="3.45"/><circle cx="200.75" cy="779.22" r="3.45"/><circle cx="200.90" cy="778.49" r="3.45"/><circle cx="201.05" cy="762.53" r="3.45"/><circle cx="201.20" cy="777.57" r="3.45"/><circle cx="201.35" cy="764.39" r="3.45"/><circle cx="201.50" cy="761.32" r="3.45"/><circle cx="201.65" cy="771.77" r="3.45"/><circle cx="201.80" cy="769.99" r="3.45"/><circle cx="201.95" cy="760.37" r="3.45"/><circle cx="202.10" cy="774.69" r="3.45"/><circle cx="202.25" cy="778.60" r="3.45"/><circle cx="202.41" cy="784.23" r="3.45"/><circle cx="202.56" cy="775.01" r="3.45"/><circle cx="202.71" cy="765.17" r="3.45"/><circle cx="202.86" cy="769.28" r="3.45"/><circle cx="203.01" cy="780.82" r="3.45"/><circle cx="203.16" cy="780.28" r="3.45"/><circle cx="203.31" cy="778.55" r="3.45"/><circle cx="203.46" cy="772.44" r="3.45"/><circle cx="203.61" cy="776.36" r="3.45"/><circle cx="203.76" cy="774.53" r="3.45"/><circle cx="203.91" cy="773.85" r="3.45"/><circle cx="204.06" cy="778.08" r="3.45"/><circle cx="204.21" cy="777.67" r="3.45"/><circle cx="204.36" cy="776.34" r="3.45"/><circle cx="204.51" cy="777.63" r="3.45"/><circle cx="204.66" cy="775.30" r="3.45"/><circle cx="204.81" cy="766.92" r="3.45"/><circle cx="204.96" cy="775.56" r="3.45"/><circle cx="205.11" cy="779.78" r="3.45"/><circle cx="205.26" cy="791.76" r="3.45"/><circle cx="205.41" cy="777.51" r="3.45"/><circle cx="205.56" cy="792.83" r="3.45"/><circle cx="205.72" cy="789.64" r="3.45"/><circle cx="205.87" cy="774.42" r="3.45"/><circle cx="206.02" cy="774.44" r="3.45"/><circle cx="206.17" cy="780.38" r="3.45"/><circle cx="206.32" cy="790.72" r="3.45"/><circle cx="206.47" cy="781.14" r="3.45"/><circle cx="206.62" cy="782.52" r="3.45"/><circle cx="206.77" cy="774.50" r="3.45"/><circle cx="206.92" cy="763.24" r="3.45"/><circle cx="207.07" cy="777.20" r="3.45"/><circle cx="207.22" cy="784.40" r="3.45"/><circle cx="207.37" cy="786.29" r="3.45"/><circle cx="207.52" cy="779.12" r="3.45"/><circle cx="207.67" cy="780.63" r="3.45"/><circle cx="207.82" cy="786.42" r="3.45"/><circle cx="207.97" cy="778.18" r="3.45"/><circle cx="208.12" cy="786.67" r="3.45"/><circle cx="208.27" cy="772.77" r="3.45"/><circle cx="208.42" cy="772.47" r="3.45"/><circle cx="208.57" cy="772.23" r="3.45"/><circle cx="208.72" cy="781.06" r="3.45"/><circle cx="208.87" cy="774.22" r="3.45"/><circle cx="209.03" cy="778.41" r="3.45"/><circle cx="209.18" cy="780.03" r="3.45"/><circle cx="209.33" cy="780.00" r="3.45"/><circle cx="209.48" cy="785.67" r="3.45"/><circle cx="209.63" cy="786.66" r="3.45"/><circle cx="209.78" cy="771.07" r="3.45"/><circle cx="209.93" cy="777.20" r="3.45"/><circle cx="210.08" cy="773.92" r="3.45"/><circle cx="210.23" cy="769.46" r="3.45"/><circle cx="210.38" cy="787.54" r="3.45"/><circle cx="210.53" cy="781.69" r="3.45"/><circle cx="210.68" cy="775.42" r="3.45"/><circle cx="210.83" cy="773.62" r="3.45"/><circle cx="210.98" cy="779.04" r="3.45"/><circle cx="211.13" cy="771.27" r="3.45"/><circle cx="211.28" cy="775.92" r="3.45"/><circle cx="211.43" cy="785.51" r="3.45"/><circle cx="211.58" cy="784.48" r="3.45"/><circle cx="211.73" cy="772.90" r="3.45"/><circle cx="211.88" cy="775.43" r="3.45"/><circle cx="212.03" cy="790.46" r="3.45"/><circle cx="212.18" cy="769.19" r="3.45"/><circle cx="212.33" cy="774.43" r="3.45"/><circle cx="212.49" cy="770.47" r="3.45"/><circle cx="212.64" cy="781.72" r="3.45"/><circle cx="212.79" cy="781.12" r="3.45"/><circle cx="212.94" cy="786.69" r="3.45"/><circle cx="213.09" cy="762.78" r="3.45"/><circle cx="213.24" cy="781.19" r="3.45"/><circle cx="213.39" cy="769.06" r="3.45"/><circle cx="213.54" cy="785.48" r="3.45"/><circle cx="213.69" cy="779.51" r="3.45"/><circle cx="213.84" cy="792.04" r="3.45"/><circle cx="213.99" cy="783.91" r="3.45"/><circle cx="214.14" cy="774.82" r="3.45"/><circle cx="214.29" cy="789.72" r="3.45"/><circle cx="214.44" cy="775.15" r="3.45"/><circle cx="214.59" cy="780.68" r="3.45"/><circle cx="214.74" cy="789.98" r="3.45"/><circle cx="214.89" cy="785.55" r="3.45"/><circle cx="215.04" cy="786.01" r="3.45"/><circle cx="215.19" cy="783.11" r="3.45"/><circle cx="215.34" cy="787.23" r="3.45"/><circle cx="215.49" cy="788.85" r="3.45"/><circle cx="215.64" cy="786.02" r="3.45"/><circle cx="215.80" cy="791.39" r="3.45"/><circle cx="215.95" cy="792.77" r="3.45"/><circle cx="216.10" cy="784.70" r="3.45"/><circle cx="216.25" cy="779.40" r="3.45"/><circle cx="216.40" cy="796.02" r="3.45"/><circle cx="216.55" cy="785.73" r="3.45"/><circle cx="216.70" cy="789.55" r="3.45"/><circle cx="216.85" cy="791.08" r="3.45"/><circle cx="217.00" cy="779.45" r="3.45"/><circle cx="217.15" cy="789.58" r="3.45"/><circle cx="217.30" cy="776.19" r="3.45"/><circle cx="217.45" cy="791.88" r="3.45"/><circle cx="217.60" cy="785.61" r="3.45"/><circle cx="217.75" cy="788.91" r="3.45"/><circle cx="217.90" cy="793.08" r="3.45"/><circle cx="218.05" cy="783.89" r="3.45"/><circle cx="218.20" cy="787.86" r="3.45"/><circle cx="218.35" cy="781.74" r="3.45"/><circle cx="218.50" cy="785.74" r="3.45"/><circle cx="218.65" cy="792.00" r="3.45"/><circle cx="218.80" cy="785.21" r="3.45"/><circle cx="218.95" cy="783.68" r="3.45"/><circle cx="219.11" cy="776.06" r="3.45"/><circle cx="219.26" cy="788.77" r="3.45"/><circle cx="219.41" cy="781.67" r="3.45"/><circle cx="219.56" cy="792.48" r="3.45"/><circle cx="219.71" cy="776.54" r="3.45"/><circle cx="219.86" cy="787.97" r="3.45"/><circle cx="220.01" cy="792.30" r="3.45"/><circle cx="220.16" cy="779.88" r="3.45"/><circle cx="220.31" cy="772.84" r="3.45"/><circle cx="220.46" cy="790.31" r="3.45"/><circle cx="220.61" cy="787.57" r="3.45"/><circle cx="220.76" cy="784.71" r="3.45"/><circle cx="220.91" cy="788.02" r="3.45"/><circle cx="221.06" cy="777.66" r="3.45"/><circle cx="221.21" cy="785.48" r="3.45"/><circle cx="221.36" cy="784.33" r="3.45"/><circle cx="221.51" cy="776.29" r="3.45"/><circle cx="221.66" cy="786.15" r="3.45"/><circle cx="221.81" cy="777.60" r="3.45"/><circle cx="221.96" cy="787.46" r="3.45"/><circle cx="222.11" cy="789.18" r="3.45"/><circle cx="222.26" cy="794.44" r="3.45"/><circle cx="222.42" cy="770.14" r="3.45"/><circle cx="222.57" cy="784.84" r="3.45"/><circle cx="222.72" cy="781.36" r="3.45"/><circle cx="222.87" cy="784.30" r="3.45"/><circle cx="223.02" cy="783.33" r="3.45"/><circle cx="223.17" cy="783.71" r="3.45"/><circle cx="223.32" cy="771.92" r="3.45"/><circle cx="223.47" cy="791.91" r="3.45"/><circle cx="223.62" cy="795.08" r="3.45"/><circle cx="223.77" cy="791.87" r="3.45"/><circle cx="223.92" cy="793.85" r="3.45"/><circle cx="224.07" cy="778.60" r="3.45"/><circle cx="224.22" cy="778.82" r="3.45"/><circle cx="224.37" cy="791.71" r="3.45"/><circle cx="224.52" cy="794.16" r="3.45"/><circle cx="224.67" cy="785.71" r="3.45"/><circle cx="224.82" cy="773.71" r="3.45"/><circle cx="224.97" cy="801.45" r="3.45"/><circle cx="225.12" cy="779.34" r="3.45"/><circle cx="225.27" cy="790.15" r="3.45"/><circle cx="225.42" cy="775.66" r="3.45"/><circle cx="225.57" cy="790.79" r="3.45"/><circle cx="225.72" cy="784.77" r="3.45"/><circle cx="225.88" cy="793.67" r="3.45"/><circle cx="226.03" cy="788.18" r="3.45"/><circle cx="226.18" cy="772.85" r="3.45"/><circle cx="226.33" cy="776.84" r="3.45"/><circle cx="226.48" cy="785.00" r="3.45"/><circle cx="226.63" cy="786.81" r="3.45"/><circle cx="226.78" cy="793.10" r="3.45"/><circle cx="226.93" cy="784.90" r="3.45"/><circle cx="227.08" cy="781.94" r="3.45"/><circle cx="227.23" cy="781.32" r="3.45"/><circle cx="227.38" cy="781.53" r="3.45"/><circle cx="227.53" cy="788.27" r="3.45"/><circle cx="227.68" cy="781.40" r="3.45"/><circle cx="227.83" cy="782.04" r="3.45"/><circle cx="227.98" cy="773.46" r="3.45"/><circle cx="228.13" cy="769.02" r="3.45"/><circle cx="228.28" cy="783.30" r="3.45"/><circle cx="228.43" cy="787.92" r="3.45"/><circle cx="228.58" cy="783.66" r="3.45"/><circle cx="228.73" cy="787.30" r="3.45"/><circle cx="228.88" cy="787.46" r="3.45"/><circle cx="229.03" cy="783.65" r="3.45"/><circle cx="229.19" cy="789.35" r="3.45"/><circle cx="229.34" cy="777.31" r="3.45"/><circle cx="229.49" cy="782.32" r="3.45"/><circle cx="229.64" cy="779.18" r="3.45"/><circle cx="229.79" cy="783.48" r="3.45"/><circle cx="229.94" cy="787.64" r="3.45"/><circle cx="230.09" cy="788.37" r="3.45"/><circle cx="230.24" cy="784.61" r="3.45"/><circle cx="230.39" cy="788.67" r="3.45"/><circle cx="230.54" cy="783.25" r="3.45"/><circle cx="230.69" cy="784.63" r="3.45"/><circle cx="230.84" cy="794.01" r="3.45"/><circle cx="230.99" cy="785.93" r="3.45"/><circle cx="231.14" cy="795.74" r="3.45"/><circle cx="231.29" cy="791.15" r="3.45"/><circle cx="231.44" cy="789.73" r="3.45"/><circle cx="231.59" cy="801.47" r="3.45"/><circle cx="231.74" cy="787.72" r="3.45"/><circle cx="231.89" cy="786.81" r="3.45"/><circle cx="232.04" cy="789.11" r="3.45"/><circle cx="232.19" cy="791.59" r="3.45"/><circle cx="232.34" cy="791.01" r="3.45"/><circle cx="232.50" cy="795.65" r="3.45"/><circle cx="232.65" cy="792.11" r="3.45"/><circle cx="232.80" cy="792.35" r="3.45"/><circle cx="232.95" cy="788.73" r="3.45"/><circle cx="233.10" cy="797.69" r="3.45"/><circle cx="233.25" cy="788.30" r="3.45"/><circle cx="233.40" cy="788.77" r="3.45"/><circle cx="233.55" cy="790.65" r="3.45"/><circle cx="233.70" cy="791.70" r="3.45"/><circle cx="233.85" cy="785.98" r="3.45"/><circle cx="234.00" cy="799.65" r="3.45"/><circle cx="234.15" cy="784.91" r="3.45"/><circle cx="234.30" cy="787.07" r="3.45"/><circle cx="234.45" cy="785.55" r="3.45"/><circle cx="234.60" cy="784.62" r="3.45"/><circle cx="234.75" cy="790.80" r="3.45"/><circle cx="234.90" cy="786.47" r="3.45"/><circle cx="235.05" cy="779.81" r="3.45"/><circle cx="235.20" cy="781.45" r="3.45"/><circle cx="235.35" cy="782.79" r="3.45"/><circle cx="235.50" cy="793.70" r="3.45"/><circle cx="235.65" cy="779.93" r="3.45"/><circle cx="235.81" cy="774.61" r="3.45"/><circle cx="235.96" cy="775.46" r="3.45"/><circle cx="236.11" cy="781.29" r="3.45"/><circle cx="236.26" cy="793.09" r="3.45"/><circle cx="236.41" cy="775.78" r="3.45"/><circle cx="236.56" cy="784.43" r="3.45"/><circle cx="236.71" cy="799.59" r="3.45"/><circle cx="236.86" cy="781.45" r="3.45"/><circle cx="237.01" cy="794.20" r="3.45"/><circle cx="237.16" cy="793.83" r="3.45"/><circle cx="237.31" cy="789.39" r="3.45"/><circle cx="237.46" cy="777.11" r="3.45"/><circle cx="237.61" cy="788.29" r="3.45"/><circle cx="237.76" cy="784.33" r="3.45"/><circle cx="237.91" cy="774.28" r="3.45"/><circle cx="238.06" cy="775.48" r="3.45"/><circle cx="238.21" cy="788.38" r="3.45"/><circle cx="238.36" cy="790.07" r="3.45"/><circle cx="238.51" cy="796.75" r="3.45"/><circle cx="238.66" cy="794.60" r="3.45"/><circle cx="238.81" cy="787.36" r="3.45"/><circle cx="238.96" cy="786.67" r="3.45"/><circle cx="239.12" cy="788.45" r="3.45"/><circle cx="239.27" cy="781.27" r="3.45"/><circle cx="239.42" cy="793.73" r="3.45"/><circle cx="239.57" cy="790.14" r="3.45"/><circle cx="239.72" cy="784.17" r="3.45"/><circle cx="239.87" cy="784.72" r="3.45"/><circle cx="240.02" cy="781.06" r="3.45"/><circle cx="240.17" cy="785.57" r="3.45"/><circle cx="240.32" cy="789.22" r="3.45"/><circle cx="240.47" cy="784.66" r="3.45"/><circle cx="240.62" cy="792.40" r="3.45"/><circle cx="240.77" cy="796.20" r="3.45"/><circle cx="240.92" cy="781.11" r="3.45"/><circle cx="241.07" cy="785.11" r="3.45"/><circle cx="241.22" cy="782.77" r="3.45"/><circle cx="241.37" cy="795.03" r="3.45"/><circle cx="241.52" cy="786.76" r="3.45"/><circle cx="241.67" cy="787.41" r="3.45"/><circle cx="241.82" cy="788.93" r="3.45"/><circle cx="241.97" cy="797.04" r="3.45"/><circle cx="242.12" cy="783.80" r="3.45"/><circle cx="242.27" cy="775.96" r="3.45"/><circle cx="242.42" cy="777.94" r="3.45"/></g>
<g fill="#7CAE00"><circle cx="156.70" cy="541.20" r="8.0"/><circle cx="242.39" cy="788.10" r="8.0"/><circle cx="327.97" cy="789.70" r="8.0"/><circle cx="418.33" cy="788.00" r="8.0"/><circle cx="508.33" cy="788.30" r="8.0"/><circle cx="598.78" cy="788.80" r="8.0"/><circle cx="688.78" cy="790.00" r="8.0"/><circle cx="778.96" cy="789.50" r="8.0"/><circle cx="869.50" cy="794.80" r="8.0"/><circle cx="959.50" cy="792.90" r="8.0"/></g>
<g fill="#00BFC4"><circle cx="156.70" cy="87.10" r="8.0"/><circle cx="229.00" cy="191.30" r="8.0"/><circle cx="242.10" cy="74.60" r="8.0"/><circle cx="328.10" cy="214.90" r="8.0"/><circle cx="417.90" cy="413.60" r="8.0"/><circle cx="508.50" cy="325.00" r="8.0"/><circle cx="598.30" cy="353.90" r="8.0"/><circle cx="688.70" cy="357.80" r="8.0"/><circle cx="778.90" cy="376.10" r="8.0"/><circle cx="869.20" cy="376.60" r="8.0"/><circle cx="959.50" cy="331.60" r="8.0"/></g>
<g fill="#C77CFF"><circle cx="150.80" cy="222.90" r="8.0"/><circle cx="159.60" cy="224.80" r="8.0"/><circle cx="177.80" cy="271.00" r="8.0"/><circle cx="195.80" cy="403.30" r="8.0"/><circle cx="245.06" cy="675.00" r="8.0"/><circle cx="331.00" cy="743.00" r="8.0"/><circle cx="511.20" cy="792.90" r="8.0"/><circle cx="692.10" cy="810.70" r="8.0"/><circle cx="962.60" cy="816.20" r="8.0"/></g>
<path d="M150.50,835.69 L150.65,834.82 L150.80,834.83 L150.95,835.60 L151.10,834.73 L151.25,835.79 L151.40,833.95 L151.55,835.81 L151.70,838.85 L151.85,833.51 L152.00,835.30 L152.15,837.16 L152.31,835.56 L152.46,836.51 L152.61,831.83 L152.76,834.19 L152.91,837.26 L153.06,833.91 L153.21,835.26 L153.36,831.60 L153.51,836.05 L153.66,837.79 L153.81,834.13 L153.96,834.67 L154.11,833.34 L154.26,826.69 L154.41,813.01 L154.56,796.35 L154.71,775.36 L154.86,759.15 L155.01,736.17 L155.16,711.88 L155.31,689.84 L155.46,663.64 L155.62,639.79 L155.77,604.65 L155.92,579.91 L156.07,555.16 L156.22,528.51 L156.37,491.95 L156.52,468.70 L156.67,439.97 L156.70,595.90 L156.82,407.99 L156.97,376.81 L157.12,341.41 L157.27,348.88 L157.42,366.25 L157.57,399.40 L157.72,415.80 L157.87,441.98 L158.02,451.70 L158.17,477.08 L158.32,493.22 L158.47,505.96 L158.62,519.97 L158.77,542.21 L158.93,553.04 L159.08,569.21 L159.23,575.94 L159.38,587.95 L159.53,599.35 L159.68,610.44 L159.83,618.80 L159.98,628.86 L160.13,632.88 L160.28,637.40 L160.43,656.45 L160.58,657.30 L160.73,664.91 L160.88,668.04 L161.03,678.78 L161.18,681.59 L161.33,689.83 L161.48,688.89 L161.63,695.56 L161.78,700.84 L161.93,703.19 L162.08,709.20 L162.24,717.32 L162.39,713.56 L162.54,717.91 L162.69,722.54 L162.84,721.66 L162.99,723.68 L163.14,734.14 L163.29,735.61 L163.44,730.12 L163.59,732.82 L163.74,742.25 L163.89,745.78 L164.04,745.87 L164.19,747.23 L164.34,752.64 L164.49,748.83 L164.64,754.83 L164.79,756.09 L164.94,750.33 L165.09,757.08 L165.24,756.31 L165.39,755.17 L165.54,755.72 L165.70,760.72 L165.85,760.50 L166.00,764.46 L166.15,756.74 L166.30,761.38 L166.45,768.20 L166.60,765.31 L166.75,763.74 L166.90,765.31 L167.05,761.51 L167.20,763.78 L167.35,770.93 L167.50,770.08 L167.65,774.76 L167.80,770.21 L167.95,771.14 L168.10,763.09 L168.25,772.46 L168.40,780.40 L168.55,776.12 L168.70,773.97 L168.85,779.09 L169.01,778.25 L169.16,777.01 L169.31,775.07 L169.46,777.22 L169.61,780.08 L169.76,774.83 L169.91,779.71 L170.06,779.96 L170.21,783.32 L170.36,781.68 L170.51,777.19 L170.66,785.21 L170.81,780.33 L170.96,778.00 L171.11,782.03 L171.26,780.27 L171.41,785.17 L171.56,777.28 L171.71,778.29 L171.86,781.51 L172.01,788.53 L172.16,786.42 L172.32,779.87 L172.47,777.66 L172.62,782.72 L172.77,779.78 L172.92,786.31 L173.07,785.16 L173.22,784.78 L173.37,783.60 L173.52,790.45 L173.67,782.35 L173.82,781.31 L173.97,789.90 L174.12,790.83 L174.27,785.30 L174.42,788.93 L174.57,794.96 L174.72,784.45 L174.87,786.88 L175.02,789.23 L175.17,780.70 L175.32,787.59 L175.47,790.82 L175.63,788.15 L175.78,792.21 L175.93,791.48 L176.08,787.81 L176.23,791.19 L176.38,791.04 L176.53,784.08 L176.68,787.02 L176.83,787.41 L176.98,788.53 L177.13,788.87 L177.28,785.78 L177.43,790.96 L177.58,784.81 L177.73,794.48 L177.88,792.32 L178.03,796.30 L178.18,792.98 L178.33,790.25 L178.48,787.28 L178.63,794.60 L178.78,792.52 L178.94,793.93 L179.09,795.39 L179.24,797.08 L179.39,793.03 L179.54,799.26 L179.69,793.21 L179.84,793.68 L179.99,796.14 L180.14,797.50 L180.29,798.92 L180.44,788.09 L180.59,799.11 L180.74,789.47 L180.89,792.87 L181.04,796.29 L181.19,799.13 L181.34,791.85 L181.49,789.69 L181.64,798.84 L181.79,796.85 L181.94,792.44 L182.09,795.01 L182.24,789.54 L182.40,798.37 L182.55,794.76 L182.70,800.97 L182.85,789.81 L183.00,799.51 L183.15,804.65 L183.30,797.75 L183.45,797.94 L183.60,791.14 L183.75,798.90 L183.90,797.94 L184.05,796.03 L184.20,792.82 L184.35,798.53 L184.50,794.94 L184.65,796.84 L184.80,799.73 L184.95,798.60 L185.10,798.90 L185.25,802.23 L185.40,795.16 L185.55,804.08 L185.71,795.57 L185.86,796.43 L186.01,800.10 L186.16,802.50 L186.31,800.81 L186.46,798.57 L186.61,797.78 L186.76,799.45 L186.91,797.19 L187.06,802.55 L187.21,800.00 L187.36,806.21 L187.51,798.46 L187.66,800.64 L187.81,802.68 L187.96,797.47 L188.11,799.18 L188.26,811.15 L188.41,801.62 L188.56,806.78 L188.71,798.38 L188.86,793.69 L189.02,803.97 L189.17,802.08 L189.32,803.29 L189.47,801.37 L189.62,800.49 L189.77,798.43 L189.92,806.22 L190.07,797.69 L190.22,806.26 L190.37,802.28 L190.52,799.41 L190.67,801.02 L190.82,806.71 L190.97,806.02 L191.12,805.31 L191.27,804.03 L191.42,800.09 L191.57,808.43 L191.72,802.59 L191.87,802.21 L192.02,802.49 L192.17,802.90 L192.33,799.44 L192.48,803.03 L192.63,801.88 L192.78,802.97 L192.93,798.91 L193.08,811.49 L193.23,800.84 L193.38,806.15 L193.53,806.31 L193.68,808.73 L193.83,811.87 L193.98,806.94 L194.13,808.06 L194.28,804.17 L194.43,810.90 L194.58,801.18 L194.73,805.19 L194.88,807.04 L195.03,808.69 L195.18,809.05 L195.33,810.29 L195.48,808.41 L195.63,806.63 L195.79,807.34 L195.94,811.61 L196.09,807.82 L196.24,810.02 L196.39,806.55 L196.54,800.88 L196.69,805.15 L196.84,808.41 L196.99,812.93 L197.14,812.30 L197.29,813.30 L197.44,805.23 L197.59,810.36 L197.74,807.64 L197.89,810.04 L198.04,807.71 L198.19,803.36 L198.34,810.49 L198.49,809.41 L198.64,811.06 L198.79,805.46 L198.94,811.96 L199.10,812.40 L199.25,813.34 L199.40,813.49 L199.55,807.22 L199.70,800.21 L199.85,812.33 L200.00,805.82 L200.15,808.27 L200.30,812.91 L200.45,810.20 L200.60,810.13 L200.75,811.75 L200.90,802.96 L201.05,816.00 L201.20,808.35 L201.35,808.59 L201.50,811.74 L201.65,809.35 L201.80,806.96 L201.95,809.48 L202.10,808.65 L202.25,807.79 L202.41,817.07 L202.56,805.28 L202.71,802.65 L202.86,807.10 L203.01,807.06 L203.16,815.31 L203.31,811.02 L203.46,813.43 L203.61,812.74 L203.76,807.55 L203.91,813.60 L204.06,811.39 L204.21,817.47 L204.36,811.62 L204.51,810.84 L204.66,813.60 L204.81,813.71 L204.96,804.97 L205.11,815.49 L205.26,815.02 L205.41,814.27 L205.56,807.55 L205.72,804.56 L205.87,810.60 L206.02,814.21 L206.17,813.29 L206.32,808.31 L206.47,815.05 L206.62,807.12 L206.77,807.30 L206.92,811.91 L207.07,810.03 L207.22,809.74 L207.37,807.08 L207.52,815.94 L207.67,808.46 L207.82,813.77 L207.97,815.16 L208.12,812.27 L208.27,813.40 L208.42,816.07 L208.57,818.19 L208.72,816.03 L208.87,808.00 L209.03,806.33 L209.18,810.82 L209.33,809.07 L209.48,814.88 L209.63,813.45 L209.78,812.29 L209.93,816.95 L210.08,816.70 L210.23,813.08 L210.38,814.54 L210.53,817.11 L210.68,812.26 L210.83,814.51 L210.98,810.22 L211.13,813.74 L211.28,814.79 L211.43,813.40 L211.58,814.46 L211.73,816.19 L211.88,815.34 L212.03,811.51 L212.18,811.90 L212.33,809.79 L212.49,819.91 L212.64,815.57 L212.79,815.69 L212.94,813.76 L213.09,815.92 L213.24,816.17 L213.39,811.84 L213.54,813.94 L213.69,818.53 L213.84,810.13 L213.99,811.32 L214.14,816.67 L214.29,811.97 L214.44,817.31 L214.59,811.07 L214.74,815.66 L214.89,817.68 L215.04,816.28 L215.19,817.65 L215.34,814.46 L215.49,814.57 L215.64,815.08 L215.80,817.13 L215.95,827.67 L216.10,815.03 L216.25,821.79 L216.40,814.61 L216.55,811.66 L216.70,814.60 L216.85,816.88 L217.00,816.22 L217.15,816.11 L217.30,817.56 L217.45,817.72 L217.60,818.91 L217.75,811.82 L217.90,815.93 L218.05,812.69 L218.20,816.81 L218.35,815.76 L218.50,816.62 L218.65,814.53 L218.80,813.34 L218.95,815.36 L219.11,818.49 L219.26,818.89 L219.41,810.69 L219.56,817.29 L219.71,817.37 L219.86,811.47 L220.01,812.79 L220.16,814.70 L220.31,817.89 L220.46,808.63 L220.61,815.30 L220.76,814.82 L220.91,817.28 L221.06,821.52 L221.21,821.30 L221.36,815.45 L221.51,815.54 L221.66,817.71 L221.81,820.90 L221.96,821.85 L222.11,818.13 L222.26,821.98 L222.42,814.06 L222.57,813.24 L222.72,807.62 L222.87,814.24 L223.02,819.25 L223.17,820.23 L223.32,828.99 L223.47,819.37 L223.62,818.00 L223.77,814.17 L223.92,815.41 L224.07,815.52 L224.22,816.83 L224.37,815.35 L224.52,812.73 L224.67,821.25 L224.82,819.24 L224.97,822.42 L225.12,812.30 L225.27,813.42 L225.42,815.29 L225.57,821.92 L225.72,817.32 L225.88,818.74 L226.03,817.70 L226.18,818.65 L226.33,816.29 L226.48,819.42 L226.63,815.23 L226.78,817.34 L226.93,819.18 L227.08,818.60 L227.23,819.74 L227.38,815.54 L227.53,819.24 L227.68,817.36 L227.83,819.72 L227.98,823.44 L228.13,815.40 L228.28,822.06 L228.43,816.23 L228.58,817.14 L228.73,824.18 L228.88,821.81 L229.03,820.39 L229.19,821.46 L229.34,822.71 L229.49,816.25 L229.64,819.59 L229.79,817.51 L229.94,820.30 L230.09,817.85 L230.24,821.45 L230.39,819.03 L230.54,817.01 L230.69,818.85 L230.84,820.58 L230.99,822.74 L231.14,818.53 L231.29,817.97 L231.44,820.04 L231.59,821.79 L231.74,817.39 L231.89,810.87 L232.04,820.31 L232.19,818.18 L232.34,818.07 L232.50,828.05 L232.65,818.99 L232.80,821.82 L232.95,814.79 L233.10,820.36 L233.25,822.15 L233.40,820.30 L233.55,819.02 L233.70,821.51 L233.85,819.82 L234.00,824.25 L234.15,820.47 L234.30,817.11 L234.45,813.11 L234.60,817.40 L234.75,818.90 L234.90,815.85 L235.05,816.43 L235.20,814.28 L235.35,816.28 L235.50,820.36 L235.65,819.12 L235.81,819.41 L235.96,819.03 L236.11,819.40 L236.26,822.75 L236.41,827.24 L236.56,822.43 L236.71,827.03 L236.86,819.99 L237.01,820.23 L237.16,825.93 L237.31,817.97 L237.46,817.40 L237.61,820.03 L237.76,814.75 L237.91,814.08 L238.06,824.51 L238.21,816.96 L238.36,819.00 L238.51,819.10 L238.66,817.38 L238.81,823.00 L238.96,822.60 L239.12,823.41 L239.27,823.20 L239.42,821.01 L239.57,825.60 L239.72,824.26 L239.87,818.80 L240.02,821.02 L240.17,819.51 L240.32,827.21 L240.47,823.50 L240.62,822.76 L240.77,820.80 L240.92,822.91 L241.07,817.80 L241.22,821.18 L241.37,820.95 L241.52,820.99 L241.67,818.67 L241.82,822.68 L241.97,817.32 L242.12,819.58 L242.27,820.64 L242.42,821.04 L242.39,825.10 L327.97,830.80 L418.33,830.50 L508.33,833.60 L598.78,834.30 L688.78,835.00 L778.96,835.20 L869.50,835.70 L959.50,836.00" fill="none" stroke="#6a6a6a" stroke-opacity="0.55" stroke-width="4.4" stroke-linejoin="round" stroke-linecap="butt"/>
<path d="M150.50,835.69 L150.65,834.82 L150.80,834.83 L150.95,835.60 L151.10,834.73 L151.25,835.79 L151.40,833.95 L151.55,835.81 L151.70,838.85 L151.85,833.51 L152.00,835.30 L152.15,837.16 L152.31,835.56 L152.46,836.51 L152.61,831.83 L152.76,834.19 L152.91,837.26 L153.06,833.91 L153.21,835.26 L153.36,831.60 L153.51,836.05 L153.66,837.79 L153.81,834.13 L153.96,834.67 L154.11,833.34 L154.26,826.69 L154.41,813.01 L154.56,796.35 L154.71,775.36 L154.86,759.15 L155.01,736.17 L155.16,711.88 L155.31,689.84 L155.46,663.64 L155.62,639.79 L155.77,604.65 L155.92,579.91 L156.07,555.16 L156.22,528.51 L156.37,491.95 L156.52,468.70 L156.67,439.97 L156.70,595.90 L156.82,407.99 L156.97,376.81 L157.12,341.41 L157.27,348.88 L157.42,366.25 L157.57,399.40 L157.72,415.80 L157.87,441.98 L158.02,451.70 L158.17,477.08 L158.32,493.22 L158.47,505.96 L158.62,519.97 L158.77,542.21 L158.93,553.04 L159.08,569.21 L159.23,575.94 L159.38,587.95 L159.53,599.35 L159.68,610.44 L159.83,618.80 L159.98,628.86 L160.13,632.88 L160.28,637.40 L160.43,656.45 L160.58,657.30 L160.73,664.91 L160.88,668.04 L161.03,678.78 L161.18,681.59 L161.33,689.83 L161.48,688.89 L161.63,695.56 L161.78,700.84 L161.93,703.19 L162.08,709.20 L162.24,717.32 L162.39,713.56 L162.54,717.91 L162.69,722.54 L162.84,721.66 L162.99,723.68 L163.14,734.14 L163.29,735.61 L163.44,730.12 L163.59,732.82 L163.74,742.25 L163.89,745.78 L164.04,745.87 L164.19,747.23 L164.34,752.64 L164.49,748.83 L164.64,754.83 L164.79,756.09 L164.94,750.33 L165.09,757.08 L165.24,756.31 L165.39,755.17 L165.54,755.72 L165.70,760.72 L165.85,760.50 L166.00,764.46 L166.15,756.74 L166.30,761.38 L166.45,768.20 L166.60,765.31 L166.75,763.74 L166.90,765.31 L167.05,761.51 L167.20,763.78 L167.35,770.93 L167.50,770.08 L167.65,774.76 L167.80,770.21 L167.95,771.14 L168.10,763.09 L168.25,772.46 L168.40,780.40 L168.55,776.12 L168.70,773.97 L168.85,779.09 L169.01,778.25 L169.16,777.01 L169.31,775.07 L169.46,777.22 L169.61,780.08 L169.76,774.83 L169.91,779.71 L170.06,779.96 L170.21,783.32 L170.36,781.68 L170.51,777.19 L170.66,785.21 L170.81,780.33 L170.96,778.00 L171.11,782.03 L171.26,780.27 L171.41,785.17 L171.56,777.28 L171.71,778.29 L171.86,781.51 L172.01,788.53 L172.16,786.42 L172.32,779.87 L172.47,777.66 L172.62,782.72 L172.77,779.78 L172.92,786.31 L173.07,785.16 L173.22,784.78 L173.37,783.60 L173.52,790.45 L173.67,782.35 L173.82,781.31 L173.97,789.90 L174.12,790.83 L174.27,785.30 L174.42,788.93 L174.57,794.96 L174.72,784.45 L174.87,786.88 L175.02,789.23 L175.17,780.70 L175.32,787.59 L175.47,790.82 L175.63,788.15 L175.78,792.21 L175.93,791.48 L176.08,787.81 L176.23,791.19 L176.38,791.04 L176.53,784.08 L176.68,787.02 L176.83,787.41 L176.98,788.53 L177.13,788.87 L177.28,785.78 L177.43,790.96 L177.58,784.81 L177.73,794.48 L177.88,792.32 L178.03,796.30 L178.18,792.98 L178.33,790.25 L178.48,787.28 L178.63,794.60 L178.78,792.52 L178.94,793.93 L179.09,795.39 L179.24,797.08 L179.39,793.03 L179.54,799.26 L179.69,793.21 L179.84,793.68 L179.99,796.14 L180.14,797.50 L180.29,798.92 L180.44,788.09 L180.59,799.11 L180.74,789.47 L180.89,792.87 L181.04,796.29 L181.19,799.13 L181.34,791.85 L181.49,789.69 L181.64,798.84 L181.79,796.85 L181.94,792.44 L182.09,795.01 L182.24,789.54 L182.40,798.37 L182.55,794.76 L182.70,800.97 L182.85,789.81 L183.00,799.51 L183.15,804.65 L183.30,797.75 L183.45,797.94 L183.60,791.14 L183.75,798.90 L183.90,797.94 L184.05,796.03 L184.20,792.82 L184.35,798.53 L184.50,794.94 L184.65,796.84 L184.80,799.73 L184.95,798.60 L185.10,798.90 L185.25,802.23 L185.40,795.16 L185.55,804.08 L185.71,795.57 L185.86,796.43 L186.01,800.10 L186.16,802.50 L186.31,800.81 L186.46,798.57 L186.61,797.78 L186.76,799.45 L186.91,797.19 L187.06,802.55 L187.21,800.00 L187.36,806.21 L187.51,798.46 L187.66,800.64 L187.81,802.68 L187.96,797.47 L188.11,799.18 L188.26,811.15 L188.41,801.62 L188.56,806.78 L188.71,798.38 L188.86,793.69 L189.02,803.97 L189.17,802.08 L189.32,803.29 L189.47,801.37 L189.62,800.49 L189.77,798.43 L189.92,806.22 L190.07,797.69 L190.22,806.26 L190.37,802.28 L190.52,799.41 L190.67,801.02 L190.82,806.71 L190.97,806.02 L191.12,805.31 L191.27,804.03 L191.42,800.09 L191.57,808.43 L191.72,802.59 L191.87,802.21 L192.02,802.49 L192.17,802.90 L192.33,799.44 L192.48,803.03 L192.63,801.88 L192.78,802.97 L192.93,798.91 L193.08,811.49 L193.23,800.84 L193.38,806.15 L193.53,806.31 L193.68,808.73 L193.83,811.87 L193.98,806.94 L194.13,808.06 L194.28,804.17 L194.43,810.90 L194.58,801.18 L194.73,805.19 L194.88,807.04 L195.03,808.69 L195.18,809.05 L195.33,810.29 L195.48,808.41 L195.63,806.63 L195.79,807.34 L195.94,811.61 L196.09,807.82 L196.24,810.02 L196.39,806.55 L196.54,800.88 L196.69,805.15 L196.84,808.41 L196.99,812.93 L197.14,812.30 L197.29,813.30 L197.44,805.23 L197.59,810.36 L197.74,807.64 L197.89,810.04 L198.04,807.71 L198.19,803.36 L198.34,810.49 L198.49,809.41 L198.64,811.06 L198.79,805.46 L198.94,811.96 L199.10,812.40 L199.25,813.34 L199.40,813.49 L199.55,807.22 L199.70,800.21 L199.85,812.33 L200.00,805.82 L200.15,808.27 L200.30,812.91 L200.45,810.20 L200.60,810.13 L200.75,811.75 L200.90,802.96 L201.05,816.00 L201.20,808.35 L201.35,808.59 L201.50,811.74 L201.65,809.35 L201.80,806.96 L201.95,809.48 L202.10,808.65 L202.25,807.79 L202.41,817.07 L202.56,805.28 L202.71,802.65 L202.86,807.10 L203.01,807.06 L203.16,815.31 L203.31,811.02 L203.46,813.43 L203.61,812.74 L203.76,807.55 L203.91,813.60 L204.06,811.39 L204.21,817.47 L204.36,811.62 L204.51,810.84 L204.66,813.60 L204.81,813.71 L204.96,804.97 L205.11,815.49 L205.26,815.02 L205.41,814.27 L205.56,807.55 L205.72,804.56 L205.87,810.60 L206.02,814.21 L206.17,813.29 L206.32,808.31 L206.47,815.05 L206.62,807.12 L206.77,807.30 L206.92,811.91 L207.07,810.03 L207.22,809.74 L207.37,807.08 L207.52,815.94 L207.67,808.46 L207.82,813.77 L207.97,815.16 L208.12,812.27 L208.27,813.40 L208.42,816.07 L208.57,818.19 L208.72,816.03 L208.87,808.00 L209.03,806.33 L209.18,810.82 L209.33,809.07 L209.48,814.88 L209.63,813.45 L209.78,812.29 L209.93,816.95 L210.08,816.70 L210.23,813.08 L210.38,814.54 L210.53,817.11 L210.68,812.26 L210.83,814.51 L210.98,810.22 L211.13,813.74 L211.28,814.79 L211.43,813.40 L211.58,814.46 L211.73,816.19 L211.88,815.34 L212.03,811.51 L212.18,811.90 L212.33,809.79 L212.49,819.91 L212.64,815.57 L212.79,815.69 L212.94,813.76 L213.09,815.92 L213.24,816.17 L213.39,811.84 L213.54,813.94 L213.69,818.53 L213.84,810.13 L213.99,811.32 L214.14,816.67 L214.29,811.97 L214.44,817.31 L214.59,811.07 L214.74,815.66 L214.89,817.68 L215.04,816.28 L215.19,817.65 L215.34,814.46 L215.49,814.57 L215.64,815.08 L215.80,817.13 L215.95,827.67 L216.10,815.03 L216.25,821.79 L216.40,814.61 L216.55,811.66 L216.70,814.60 L216.85,816.88 L217.00,816.22 L217.15,816.11 L217.30,817.56 L217.45,817.72 L217.60,818.91 L217.75,811.82 L217.90,815.93 L218.05,812.69 L218.20,816.81 L218.35,815.76 L218.50,816.62 L218.65,814.53 L218.80,813.34 L218.95,815.36 L219.11,818.49 L219.26,818.89 L219.41,810.69 L219.56,817.29 L219.71,817.37 L219.86,811.47 L220.01,812.79 L220.16,814.70 L220.31,817.89 L220.46,808.63 L220.61,815.30 L220.76,814.82 L220.91,817.28 L221.06,821.52 L221.21,821.30 L221.36,815.45 L221.51,815.54 L221.66,817.71 L221.81,820.90 L221.96,821.85 L222.11,818.13 L222.26,821.98 L222.42,814.06 L222.57,813.24 L222.72,807.62 L222.87,814.24 L223.02,819.25 L223.17,820.23 L223.32,828.99 L223.47,819.37 L223.62,818.00 L223.77,814.17 L223.92,815.41 L224.07,815.52 L224.22,816.83 L224.37,815.35 L224.52,812.73 L224.67,821.25 L224.82,819.24 L224.97,822.42 L225.12,812.30 L225.27,813.42 L225.42,815.29 L225.57,821.92 L225.72,817.32 L225.88,818.74 L226.03,817.70 L226.18,818.65 L226.33,816.29 L226.48,819.42 L226.63,815.23 L226.78,817.34 L226.93,819.18 L227.08,818.60 L227.23,819.74 L227.38,815.54 L227.53,819.24 L227.68,817.36 L227.83,819.72 L227.98,823.44 L228.13,815.40 L228.28,822.06 L228.43,816.23 L228.58,817.14 L228.73,824.18 L228.88,821.81 L229.03,820.39 L229.19,821.46 L229.34,822.71 L229.49,816.25 L229.64,819.59 L229.79,817.51 L229.94,820.30 L230.09,817.85 L230.24,821.45 L230.39,819.03 L230.54,817.01 L230.69,818.85 L230.84,820.58 L230.99,822.74 L231.14,818.53 L231.29,817.97 L231.44,820.04 L231.59,821.79 L231.74,817.39 L231.89,810.87 L232.04,820.31 L232.19,818.18 L232.34,818.07 L232.50,828.05 L232.65,818.99 L232.80,821.82 L232.95,814.79 L233.10,820.36 L233.25,822.15 L233.40,820.30 L233.55,819.02 L233.70,821.51 L233.85,819.82 L234.00,824.25 L234.15,820.47 L234.30,817.11 L234.45,813.11 L234.60,817.40 L234.75,818.90 L234.90,815.85 L235.05,816.43 L235.20,814.28 L235.35,816.28 L235.50,820.36 L235.65,819.12 L235.81,819.41 L235.96,819.03 L236.11,819.40 L236.26,822.75 L236.41,827.24 L236.56,822.43 L236.71,827.03 L236.86,819.99 L237.01,820.23 L237.16,825.93 L237.31,817.97 L237.46,817.40 L237.61,820.03 L237.76,814.75 L237.91,814.08 L238.06,824.51 L238.21,816.96 L238.36,819.00 L238.51,819.10 L238.66,817.38 L238.81,823.00 L238.96,822.60 L239.12,823.41 L239.27,823.20 L239.42,821.01 L239.57,825.60 L239.72,824.26 L239.87,818.80 L240.02,821.02 L240.17,819.51 L240.32,827.21 L240.47,823.50 L240.62,822.76 L240.77,820.80 L240.92,822.91 L241.07,817.80 L241.22,821.18 L241.37,820.95 L241.52,820.99 L241.67,818.67 L241.82,822.68 L241.97,817.32 L242.12,819.58 L242.27,820.64 L242.42,821.04 L242.39,825.10 L327.97,830.80 L418.33,830.50 L508.33,833.60 L598.78,834.30 L688.78,835.00 L778.96,835.20 L869.50,835.70 L959.50,836.00" fill="none" stroke="#F8766D" stroke-width="3.5" stroke-linejoin="round" stroke-linecap="butt"/>
<path d="M150.50,838.65 L150.65,837.02 L150.80,834.90 L150.95,840.42 L151.10,836.93 L151.25,835.08 L151.40,834.60 L151.55,831.94 L151.70,833.19 L151.85,835.19 L152.00,835.09 L152.15,833.72 L152.31,837.02 L152.46,835.61 L152.61,833.04 L152.76,830.96 L152.91,835.55 L153.06,835.14 L153.21,834.38 L153.36,831.30 L153.51,834.72 L153.66,830.73 L153.81,836.89 L153.96,834.75 L154.11,834.66 L154.26,832.00 L154.41,831.21 L154.56,837.47 L154.71,836.02 L154.86,826.07 L155.01,810.37 L155.16,783.69 L155.31,758.37 L155.46,729.06 L155.62,693.36 L155.77,665.95 L155.92,630.05 L156.07,592.45 L156.22,559.96 L156.37,521.19 L156.52,482.02 L156.67,442.56 L156.70,541.20 L156.82,405.47 L156.97,360.61 L157.12,324.77 L157.27,281.16 L157.42,222.80 L157.57,275.02 L157.72,324.77 L157.87,351.80 L158.02,371.46 L158.17,386.82 L158.32,394.19 L158.47,410.16 L158.62,415.92 L158.77,432.27 L158.93,451.79 L159.08,466.32 L159.23,479.75 L159.38,499.91 L159.53,511.24 L159.68,525.86 L159.83,536.37 L159.98,551.21 L160.13,560.27 L160.28,569.29 L160.43,575.82 L160.58,584.05 L160.73,598.96 L160.88,605.41 L161.03,608.99 L161.18,622.95 L161.33,627.30 L161.48,631.04 L161.63,627.88 L161.78,637.12 L161.93,649.03 L162.08,654.17 L162.24,657.98 L162.39,650.54 L162.54,667.57 L162.69,670.60 L162.84,669.88 L162.99,676.46 L163.14,680.21 L163.29,689.36 L163.44,684.95 L163.59,690.55 L163.74,682.47 L163.89,688.33 L164.04,695.15 L164.19,691.91 L164.34,700.24 L164.49,694.60 L164.64,705.04 L164.79,703.74 L164.94,717.67 L165.09,707.42 L165.24,721.90 L165.39,727.73 L165.54,718.32 L165.70,723.77 L165.85,718.34 L166.00,705.42 L166.15,726.80 L166.30,726.08 L166.45,722.09 L166.60,721.97 L166.75,727.64 L166.90,728.81 L167.05,724.54 L167.20,726.71 L167.35,736.93 L167.50,731.13 L167.65,731.09 L167.80,738.10 L167.95,729.18 L168.10,737.90 L168.25,725.66 L168.40,730.59 L168.55,731.36 L168.70,737.60 L168.85,735.38 L169.01,749.02 L169.16,742.29 L169.31,733.64 L169.46,749.84 L169.61,731.04 L169.76,748.09 L169.91,732.18 L170.06,742.62 L170.21,731.64 L170.36,736.30 L170.51,747.64 L170.66,730.07 L170.81,729.76 L170.96,738.28 L171.11,739.96 L171.26,738.98 L171.41,744.89 L171.56,731.08 L171.71,741.82 L171.86,737.27 L172.01,742.40 L172.16,742.42 L172.32,746.88 L172.47,730.42 L172.62,740.81 L172.77,734.02 L172.92,741.91 L173.07,745.92 L173.22,745.12 L173.37,745.47 L173.52,741.83 L173.67,745.29 L173.82,744.97 L173.97,752.86 L174.12,748.95 L174.27,732.76 L174.42,748.72 L174.57,750.43 L174.72,743.50 L174.87,736.96 L175.02,756.30 L175.17,748.21 L175.32,751.89 L175.47,760.86 L175.63,745.88 L175.78,751.76 L175.93,750.07 L176.08,754.53 L176.23,745.45 L176.38,751.80 L176.53,749.10 L176.68,755.42 L176.83,755.90 L176.98,739.00 L177.13,752.27 L177.28,747.54 L177.43,750.19 L177.58,753.91 L177.73,755.03 L177.88,747.76 L178.03,755.31 L178.18,753.99 L178.33,753.38 L178.48,745.24 L178.63,748.58 L178.78,752.27 L178.94,758.78 L179.09,764.99 L179.24,748.92 L179.39,747.61 L179.54,754.14 L179.69,750.70 L179.84,749.75 L179.99,750.60 L180.14,749.11 L180.29,759.11 L180.44,747.43 L180.59,765.04 L180.74,750.61 L180.89,753.89 L181.04,751.77 L181.19,745.11 L181.34,747.67 L181.49,765.18 L181.64,769.09 L181.79,751.72 L181.94,763.87 L182.09,756.34 L182.24,750.88 L182.40,766.60 L182.55,769.53 L182.70,753.46 L182.85,755.54 L183.00,758.62 L183.15,757.09 L183.30,764.11 L183.45,768.18 L183.60,760.16 L183.75,765.44 L183.90,770.97 L184.05,756.81 L184.20,759.61 L184.35,757.60 L184.50,767.48 L184.65,765.22 L184.80,768.17 L184.95,767.34 L185.10,760.42 L185.25,765.84 L185.40,756.80 L185.55,756.88 L185.71,745.98 L185.86,769.48 L186.01,754.96 L186.16,763.20 L186.31,762.99 L186.46,772.99 L186.61,765.84 L186.76,757.02 L186.91,763.50 L187.06,762.19 L187.21,765.67 L187.36,755.38 L187.51,762.57 L187.66,776.12 L187.81,765.61 L187.96,773.25 L188.11,782.39 L188.26,764.44 L188.41,750.60 L188.56,759.43 L188.71,767.22 L188.86,764.94 L189.02,751.63 L189.17,759.15 L189.32,759.79 L189.47,760.91 L189.62,760.15 L189.77,755.20 L189.92,756.91 L190.07,759.09 L190.22,767.44 L190.37,756.98 L190.52,765.18 L190.67,754.02 L190.82,768.75 L190.97,760.17 L191.12,759.87 L191.27,769.17 L191.42,750.00 L191.57,751.98 L191.72,765.39 L191.87,758.04 L192.02,760.74 L192.17,780.58 L192.33,762.02 L192.48,764.29 L192.63,764.09 L192.78,772.17 L192.93,766.61 L193.08,767.35 L193.23,757.99 L193.38,763.23 L193.53,765.27 L193.68,755.07 L193.83,768.64 L193.98,767.81 L194.13,776.68 L194.28,755.01 L194.43,757.98 L194.58,760.03 L194.73,762.03 L194.88,766.27 L195.03,766.80 L195.18,769.97 L195.33,770.57 L195.48,769.39 L195.63,758.20 L195.79,765.59 L195.94,771.77 L196.09,773.67 L196.24,774.59 L196.39,759.25 L196.54,766.41 L196.69,770.56 L196.84,772.84 L196.99,777.46 L197.14,770.91 L197.29,764.67 L197.44,772.93 L197.59,772.05 L197.74,772.17 L197.89,769.88 L198.04,780.81 L198.19,772.91 L198.34,776.73 L198.49,765.25 L198.64,775.95 L198.79,765.87 L198.94,760.01 L199.10,771.75 L199.25,774.37 L199.40,770.64 L199.55,771.05 L199.70,777.42 L199.85,768.40 L200.00,757.62 L200.15,773.25 L200.30,773.12 L200.45,777.28 L200.60,767.94 L200.75,779.22 L200.90,778.49 L201.05,762.53 L201.20,777.57 L201.35,764.39 L201.50,761.32 L201.65,771.77 L201.80,769.99 L201.95,760.37 L202.10,774.69 L202.25,778.60 L202.41,784.23 L202.56,775.01 L202.71,765.17 L202.86,769.28 L203.01,780.82 L203.16,780.28 L203.31,778.55 L203.46,772.44 L203.61,776.36 L203.76,774.53 L203.91,773.85 L204.06,778.08 L204.21,777.67 L204.36,776.34 L204.51,777.63 L204.66,775.30 L204.81,766.92 L204.96,775.56 L205.11,779.78 L205.26,791.76 L205.41,777.51 L205.56,792.83 L205.72,789.64 L205.87,774.42 L206.02,774.44 L206.17,780.38 L206.32,790.72 L206.47,781.14 L206.62,782.52 L206.77,774.50 L206.92,763.24 L207.07,777.20 L207.22,784.40 L207.37,786.29 L207.52,779.12 L207.67,780.63 L207.82,786.42 L207.97,778.18 L208.12,786.67 L208.27,772.77 L208.42,772.47 L208.57,772.23 L208.72,781.06 L208.87,774.22 L209.03,778.41 L209.18,780.03 L209.33,780.00 L209.48,785.67 L209.63,786.66 L209.78,771.07 L209.93,777.20 L210.08,773.92 L210.23,769.46 L210.38,787.54 L210.53,781.69 L210.68,775.42 L210.83,773.62 L210.98,779.04 L211.13,771.27 L211.28,775.92 L211.43,785.51 L211.58,784.48 L211.73,772.90 L211.88,775.43 L212.03,790.46 L212.18,769.19 L212.33,774.43 L212.49,770.47 L212.64,781.72 L212.79,781.12 L212.94,786.69 L213.09,762.78 L213.24,781.19 L213.39,769.06 L213.54,785.48 L213.69,779.51 L213.84,792.04 L213.99,783.91 L214.14,774.82 L214.29,789.72 L214.44,775.15 L214.59,780.68 L214.74,789.98 L214.89,785.55 L215.04,786.01 L215.19,783.11 L215.34,787.23 L215.49,788.85 L215.64,786.02 L215.80,791.39 L215.95,792.77 L216.10,784.70 L216.25,779.40 L216.40,796.02 L216.55,785.73 L216.70,789.55 L216.85,791.08 L217.00,779.45 L217.15,789.58 L217.30,776.19 L217.45,791.88 L217.60,785.61 L217.75,788.91 L217.90,793.08 L218.05,783.89 L218.20,787.86 L218.35,781.74 L218.50,785.74 L218.65,792.00 L218.80,785.21 L218.95,783.68 L219.11,776.06 L219.26,788.77 L219.41,781.67 L219.56,792.48 L219.71,776.54 L219.86,787.97 L220.01,792.30 L220.16,779.88 L220.31,772.84 L220.46,790.31 L220.61,787.57 L220.76,784.71 L220.91,788.02 L221.06,777.66 L221.21,785.48 L221.36,784.33 L221.51,776.29 L221.66,786.15 L221.81,777.60 L221.96,787.46 L222.11,789.18 L222.26,794.44 L222.42,770.14 L222.57,784.84 L222.72,781.36 L222.87,784.30 L223.02,783.33 L223.17,783.71 L223.32,771.92 L223.47,791.91 L223.62,795.08 L223.77,791.87 L223.92,793.85 L224.07,778.60 L224.22,778.82 L224.37,791.71 L224.52,794.16 L224.67,785.71 L224.82,773.71 L224.97,801.45 L225.12,779.34 L225.27,790.15 L225.42,775.66 L225.57,790.79 L225.72,784.77 L225.88,793.67 L226.03,788.18 L226.18,772.85 L226.33,776.84 L226.48,785.00 L226.63,786.81 L226.78,793.10 L226.93,784.90 L227.08,781.94 L227.23,781.32 L227.38,781.53 L227.53,788.27 L227.68,781.40 L227.83,782.04 L227.98,773.46 L228.13,769.02 L228.28,783.30 L228.43,787.92 L228.58,783.66 L228.73,787.30 L228.88,787.46 L229.03,783.65 L229.19,789.35 L229.34,777.31 L229.49,782.32 L229.64,779.18 L229.79,783.48 L229.94,787.64 L230.09,788.37 L230.24,784.61 L230.39,788.67 L230.54,783.25 L230.69,784.63 L230.84,794.01 L230.99,785.93 L231.14,795.74 L231.29,791.15 L231.44,789.73 L231.59,801.47 L231.74,787.72 L231.89,786.81 L232.04,789.11 L232.19,791.59 L232.34,791.01 L232.50,795.65 L232.65,792.11 L232.80,792.35 L232.95,788.73 L233.10,797.69 L233.25,788.30 L233.40,788.77 L233.55,790.65 L233.70,791.70 L233.85,785.98 L234.00,799.65 L234.15,784.91 L234.30,787.07 L234.45,785.55 L234.60,784.62 L234.75,790.80 L234.90,786.47 L235.05,779.81 L235.20,781.45 L235.35,782.79 L235.50,793.70 L235.65,779.93 L235.81,774.61 L235.96,775.46 L236.11,781.29 L236.26,793.09 L236.41,775.78 L236.56,784.43 L236.71,799.59 L236.86,781.45 L237.01,794.20 L237.16,793.83 L237.31,789.39 L237.46,777.11 L237.61,788.29 L237.76,784.33 L237.91,774.28 L238.06,775.48 L238.21,788.38 L238.36,790.07 L238.51,796.75 L238.66,794.60 L238.81,787.36 L238.96,786.67 L239.12,788.45 L239.27,781.27 L239.42,793.73 L239.57,790.14 L239.72,784.17 L239.87,784.72 L240.02,781.06 L240.17,785.57 L240.32,789.22 L240.47,784.66 L240.62,792.40 L240.77,796.20 L240.92,781.11 L241.07,785.11 L241.22,782.77 L241.37,795.03 L241.52,786.76 L241.67,787.41 L241.82,788.93 L241.97,797.04 L242.12,783.80 L242.27,775.96 L242.42,777.94 L242.39,788.10 L327.97,789.70 L418.33,788.00 L508.33,788.30 L598.78,788.80 L688.78,790.00 L778.96,789.50 L869.50,794.80 L959.50,792.90" fill="none" stroke="#6a6a6a" stroke-opacity="0.55" stroke-width="4.4" stroke-linejoin="round" stroke-linecap="butt"/>
<path d="M150.50,838.65 L150.65,837.02 L150.80,834.90 L150.95,840.42 L151.10,836.93 L151.25,835.08 L151.40,834.60 L151.55,831.94 L151.70,833.19 L151.85,835.19 L152.00,835.09 L152.15,833.72 L152.31,837.02 L152.46,835.61 L152.61,833.04 L152.76,830.96 L152.91,835.55 L153.06,835.14 L153.21,834.38 L153.36,831.30 L153.51,834.72 L153.66,830.73 L153.81,836.89 L153.96,834.75 L154.11,834.66 L154.26,832.00 L154.41,831.21 L154.56,837.47 L154.71,836.02 L154.86,826.07 L155.01,810.37 L155.16,783.69 L155.31,758.37 L155.46,729.06 L155.62,693.36 L155.77,665.95 L155.92,630.05 L156.07,592.45 L156.22,559.96 L156.37,521.19 L156.52,482.02 L156.67,442.56 L156.70,541.20 L156.82,405.47 L156.97,360.61 L157.12,324.77 L157.27,281.16 L157.42,222.80 L157.57,275.02 L157.72,324.77 L157.87,351.80 L158.02,371.46 L158.17,386.82 L158.32,394.19 L158.47,410.16 L158.62,415.92 L158.77,432.27 L158.93,451.79 L159.08,466.32 L159.23,479.75 L159.38,499.91 L159.53,511.24 L159.68,525.86 L159.83,536.37 L159.98,551.21 L160.13,560.27 L160.28,569.29 L160.43,575.82 L160.58,584.05 L160.73,598.96 L160.88,605.41 L161.03,608.99 L161.18,622.95 L161.33,627.30 L161.48,631.04 L161.63,627.88 L161.78,637.12 L161.93,649.03 L162.08,654.17 L162.24,657.98 L162.39,650.54 L162.54,667.57 L162.69,670.60 L162.84,669.88 L162.99,676.46 L163.14,680.21 L163.29,689.36 L163.44,684.95 L163.59,690.55 L163.74,682.47 L163.89,688.33 L164.04,695.15 L164.19,691.91 L164.34,700.24 L164.49,694.60 L164.64,705.04 L164.79,703.74 L164.94,717.67 L165.09,707.42 L165.24,721.90 L165.39,727.73 L165.54,718.32 L165.70,723.77 L165.85,718.34 L166.00,705.42 L166.15,726.80 L166.30,726.08 L166.45,722.09 L166.60,721.97 L166.75,727.64 L166.90,728.81 L167.05,724.54 L167.20,726.71 L167.35,736.93 L167.50,731.13 L167.65,731.09 L167.80,738.10 L167.95,729.18 L168.10,737.90 L168.25,725.66 L168.40,730.59 L168.55,731.36 L168.70,737.60 L168.85,735.38 L169.01,749.02 L169.16,742.29 L169.31,733.64 L169.46,749.84 L169.61,731.04 L169.76,748.09 L169.91,732.18 L170.06,742.62 L170.21,731.64 L170.36,736.30 L170.51,747.64 L170.66,730.07 L170.81,729.76 L170.96,738.28 L171.11,739.96 L171.26,738.98 L171.41,744.89 L171.56,731.08 L171.71,741.82 L171.86,737.27 L172.01,742.40 L172.16,742.42 L172.32,746.88 L172.47,730.42 L172.62,740.81 L172.77,734.02 L172.92,741.91 L173.07,745.92 L173.22,745.12 L173.37,745.47 L173.52,741.83 L173.67,745.29 L173.82,744.97 L173.97,752.86 L174.12,748.95 L174.27,732.76 L174.42,748.72 L174.57,750.43 L174.72,743.50 L174.87,736.96 L175.02,756.30 L175.17,748.21 L175.32,751.89 L175.47,760.86 L175.63,745.88 L175.78,751.76 L175.93,750.07 L176.08,754.53 L176.23,745.45 L176.38,751.80 L176.53,749.10 L176.68,755.42 L176.83,755.90 L176.98,739.00 L177.13,752.27 L177.28,747.54 L177.43,750.19 L177.58,753.91 L177.73,755.03 L177.88,747.76 L178.03,755.31 L178.18,753.99 L178.33,753.38 L178.48,745.24 L178.63,748.58 L178.78,752.27 L178.94,758.78 L179.09,764.99 L179.24,748.92 L179.39,747.61 L179.54,754.14 L179.69,750.70 L179.84,749.75 L179.99,750.60 L180.14,749.11 L180.29,759.11 L180.44,747.43 L180.59,765.04 L180.74,750.61 L180.89,753.89 L181.04,751.77 L181.19,745.11 L181.34,747.67 L181.49,765.18 L181.64,769.09 L181.79,751.72 L181.94,763.87 L182.09,756.34 L182.24,750.88 L182.40,766.60 L182.55,769.53 L182.70,753.46 L182.85,755.54 L183.00,758.62 L183.15,757.09 L183.30,764.11 L183.45,768.18 L183.60,760.16 L183.75,765.44 L183.90,770.97 L184.05,756.81 L184.20,759.61 L184.35,757.60 L184.50,767.48 L184.65,765.22 L184.80,768.17 L184.95,767.34 L185.10,760.42 L185.25,765.84 L185.40,756.80 L185.55,756.88 L185.71,745.98 L185.86,769.48 L186.01,754.96 L186.16,763.20 L186.31,762.99 L186.46,772.99 L186.61,765.84 L186.76,757.02 L186.91,763.50 L187.06,762.19 L187.21,765.67 L187.36,755.38 L187.51,762.57 L187.66,776.12 L187.81,765.61 L187.96,773.25 L188.11,782.39 L188.26,764.44 L188.41,750.60 L188.56,759.43 L188.71,767.22 L188.86,764.94 L189.02,751.63 L189.17,759.15 L189.32,759.79 L189.47,760.91 L189.62,760.15 L189.77,755.20 L189.92,756.91 L190.07,759.09 L190.22,767.44 L190.37,756.98 L190.52,765.18 L190.67,754.02 L190.82,768.75 L190.97,760.17 L191.12,759.87 L191.27,769.17 L191.42,750.00 L191.57,751.98 L191.72,765.39 L191.87,758.04 L192.02,760.74 L192.17,780.58 L192.33,762.02 L192.48,764.29 L192.63,764.09 L192.78,772.17 L192.93,766.61 L193.08,767.35 L193.23,757.99 L193.38,763.23 L193.53,765.27 L193.68,755.07 L193.83,768.64 L193.98,767.81 L194.13,776.68 L194.28,755.01 L194.43,757.98 L194.58,760.03 L194.73,762.03 L194.88,766.27 L195.03,766.80 L195.18,769.97 L195.33,770.57 L195.48,769.39 L195.63,758.20 L195.79,765.59 L195.94,771.77 L196.09,773.67 L196.24,774.59 L196.39,759.25 L196.54,766.41 L196.69,770.56 L196.84,772.84 L196.99,777.46 L197.14,770.91 L197.29,764.67 L197.44,772.93 L197.59,772.05 L197.74,772.17 L197.89,769.88 L198.04,780.81 L198.19,772.91 L198.34,776.73 L198.49,765.25 L198.64,775.95 L198.79,765.87 L198.94,760.01 L199.10,771.75 L199.25,774.37 L199.40,770.64 L199.55,771.05 L199.70,777.42 L199.85,768.40 L200.00,757.62 L200.15,773.25 L200.30,773.12 L200.45,777.28 L200.60,767.94 L200.75,779.22 L200.90,778.49 L201.05,762.53 L201.20,777.57 L201.35,764.39 L201.50,761.32 L201.65,771.77 L201.80,769.99 L201.95,760.37 L202.10,774.69 L202.25,778.60 L202.41,784.23 L202.56,775.01 L202.71,765.17 L202.86,769.28 L203.01,780.82 L203.16,780.28 L203.31,778.55 L203.46,772.44 L203.61,776.36 L203.76,774.53 L203.91,773.85 L204.06,778.08 L204.21,777.67 L204.36,776.34 L204.51,777.63 L204.66,775.30 L204.81,766.92 L204.96,775.56 L205.11,779.78 L205.26,791.76 L205.41,777.51 L205.56,792.83 L205.72,789.64 L205.87,774.42 L206.02,774.44 L206.17,780.38 L206.32,790.72 L206.47,781.14 L206.62,782.52 L206.77,774.50 L206.92,763.24 L207.07,777.20 L207.22,784.40 L207.37,786.29 L207.52,779.12 L207.67,780.63 L207.82,786.42 L207.97,778.18 L208.12,786.67 L208.27,772.77 L208.42,772.47 L208.57,772.23 L208.72,781.06 L208.87,774.22 L209.03,778.41 L209.18,780.03 L209.33,780.00 L209.48,785.67 L209.63,786.66 L209.78,771.07 L209.93,777.20 L210.08,773.92 L210.23,769.46 L210.38,787.54 L210.53,781.69 L210.68,775.42 L210.83,773.62 L210.98,779.04 L211.13,771.27 L211.28,775.92 L211.43,785.51 L211.58,784.48 L211.73,772.90 L211.88,775.43 L212.03,790.46 L212.18,769.19 L212.33,774.43 L212.49,770.47 L212.64,781.72 L212.79,781.12 L212.94,786.69 L213.09,762.78 L213.24,781.19 L213.39,769.06 L213.54,785.48 L213.69,779.51 L213.84,792.04 L213.99,783.91 L214.14,774.82 L214.29,789.72 L214.44,775.15 L214.59,780.68 L214.74,789.98 L214.89,785.55 L215.04,786.01 L215.19,783.11 L215.34,787.23 L215.49,788.85 L215.64,786.02 L215.80,791.39 L215.95,792.77 L216.10,784.70 L216.25,779.40 L216.40,796.02 L216.55,785.73 L216.70,789.55 L216.85,791.08 L217.00,779.45 L217.15,789.58 L217.30,776.19 L217.45,791.88 L217.60,785.61 L217.75,788.91 L217.90,793.08 L218.05,783.89 L218.20,787.86 L218.35,781.74 L218.50,785.74 L218.65,792.00 L218.80,785.21 L218.95,783.68 L219.11,776.06 L219.26,788.77 L219.41,781.67 L219.56,792.48 L219.71,776.54 L219.86,787.97 L220.01,792.30 L220.16,779.88 L220.31,772.84 L220.46,790.31 L220.61,787.57 L220.76,784.71 L220.91,788.02 L221.06,777.66 L221.21,785.48 L221.36,784.33 L221.51,776.29 L221.66,786.15 L221.81,777.60 L221.96,787.46 L222.11,789.18 L222.26,794.44 L222.42,770.14 L222.57,784.84 L222.72,781.36 L222.87,784.30 L223.02,783.33 L223.17,783.71 L223.32,771.92 L223.47,791.91 L223.62,795.08 L223.77,791.87 L223.92,793.85 L224.07,778.60 L224.22,778.82 L224.37,791.71 L224.52,794.16 L224.67,785.71 L224.82,773.71 L224.97,801.45 L225.12,779.34 L225.27,790.15 L225.42,775.66 L225.57,790.79 L225.72,784.77 L225.88,793.67 L226.03,788.18 L226.18,772.85 L226.33,776.84 L226.48,785.00 L226.63,786.81 L226.78,793.10 L226.93,784.90 L227.08,781.94 L227.23,781.32 L227.38,781.53 L227.53,788.27 L227.68,781.40 L227.83,782.04 L227.98,773.46 L228.13,769.02 L228.28,783.30 L228.43,787.92 L228.58,783.66 L228.73,787.30 L228.88,787.46 L229.03,783.65 L229.19,789.35 L229.34,777.31 L229.49,782.32 L229.64,779.18 L229.79,783.48 L229.94,787.64 L230.09,788.37 L230.24,784.61 L230.39,788.67 L230.54,783.25 L230.69,784.63 L230.84,794.01 L230.99,785.93 L231.14,795.74 L231.29,791.15 L231.44,789.73 L231.59,801.47 L231.74,787.72 L231.89,786.81 L232.04,789.11 L232.19,791.59 L232.34,791.01 L232.50,795.65 L232.65,792.11 L232.80,792.35 L232.95,788.73 L233.10,797.69 L233.25,788.30 L233.40,788.77 L233.55,790.65 L233.70,791.70 L233.85,785.98 L234.00,799.65 L234.15,784.91 L234.30,787.07 L234.45,785.55 L234.60,784.62 L234.75,790.80 L234.90,786.47 L235.05,779.81 L235.20,781.45 L235.35,782.79 L235.50,793.70 L235.65,779.93 L235.81,774.61 L235.96,775.46 L236.11,781.29 L236.26,793.09 L236.41,775.78 L236.56,784.43 L236.71,799.59 L236.86,781.45 L237.01,794.20 L237.16,793.83 L237.31,789.39 L237.46,777.11 L237.61,788.29 L237.76,784.33 L237.91,774.28 L238.06,775.48 L238.21,788.38 L238.36,790.07 L238.51,796.75 L238.66,794.60 L238.81,787.36 L238.96,786.67 L239.12,788.45 L239.27,781.27 L239.42,793.73 L239.57,790.14 L239.72,784.17 L239.87,784.72 L240.02,781.06 L240.17,785.57 L240.32,789.22 L240.47,784.66 L240.62,792.40 L240.77,796.20 L240.92,781.11 L241.07,785.11 L241.22,782.77 L241.37,795.03 L241.52,786.76 L241.67,787.41 L241.82,788.93 L241.97,797.04 L242.12,783.80 L242.27,775.96 L242.42,777.94 L242.39,788.10 L327.97,789.70 L418.33,788.00 L508.33,788.30 L598.78,788.80 L688.78,790.00 L778.96,789.50 L869.50,794.80 L959.50,792.90" fill="none" stroke="#7CAE00" stroke-width="3.5" stroke-linejoin="round" stroke-linecap="butt"/>
<path d="M155.40,88.40 L156.70,87.10 L196.96,-212.90 L189.29,-213.10 L229.00,191.30 L242.10,74.60 L328.10,214.90 L417.90,413.60 L508.50,325.00 L598.30,353.90 L688.70,357.80 L778.90,376.10 L869.20,376.60 L959.50,331.60" fill="none" stroke="#6a6a6a" stroke-opacity="0.55" stroke-width="4.4" stroke-linejoin="round" stroke-linecap="butt"/>
<path d="M155.40,88.40 L156.70,87.10 L196.96,-212.90 L189.29,-213.10 L229.00,191.30 L242.10,74.60 L328.10,214.90 L417.90,413.60 L508.50,325.00 L598.30,353.90 L688.70,357.80 L778.90,376.10 L869.20,376.60 L959.50,331.60" fill="none" stroke="#00BFC4" stroke-width="3.5" stroke-linejoin="round" stroke-linecap="butt"/>
<path d="M150.50,222.80 L150.95,222.80 L151.40,222.80 L151.85,222.80 L152.31,222.80 L152.76,222.80 L153.21,222.80 L153.66,222.80 L154.11,222.80 L154.56,222.80 L155.01,222.80 L155.46,222.80 L155.92,222.80 L156.37,222.80 L156.82,222.80 L157.27,222.88 L157.72,222.91 L158.17,222.94 L158.62,222.97 L159.08,223.02 L159.53,223.07 L159.98,223.13 L160.43,223.20 L160.88,223.29 L161.33,223.39 L161.78,223.51 L162.24,223.64 L162.69,223.80 L163.14,223.97 L163.59,224.17 L164.04,224.40 L164.49,224.65 L164.94,224.94 L165.39,225.26 L165.85,225.62 L166.30,226.01 L166.75,226.45 L167.20,226.94 L167.65,227.48 L168.10,228.07 L168.55,228.71 L169.01,229.42 L169.46,230.19 L169.91,231.03 L170.36,231.93 L170.81,232.92 L171.26,233.97 L171.71,235.12 L172.16,236.34 L172.62,237.65 L173.07,239.06 L173.52,240.56 L173.97,242.15 L174.42,243.85 L174.87,245.64 L175.32,247.54 L175.78,249.54 L176.23,251.65 L176.68,253.87 L177.13,256.19 L177.58,258.62 L178.03,261.16 L178.48,263.80 L178.94,266.55 L179.39,269.40 L179.84,272.36 L180.29,275.41 L180.74,278.57 L181.19,281.81 L181.64,285.15 L182.09,288.57 L182.55,292.08 L183.00,295.67 L183.45,299.33 L183.90,303.06 L184.35,306.85 L184.80,310.71 L185.25,314.62 L185.71,318.59 L186.16,322.60 L186.61,326.65 L187.06,330.74 L187.51,334.85 L187.96,339.00 L188.41,343.17 L188.86,347.35 L189.32,351.55 L189.77,355.75 L190.22,359.96 L190.67,364.17 L191.12,368.38 L191.57,372.58 L192.02,376.78 L192.48,380.96 L192.93,385.12 L193.38,389.26 L193.83,393.39 L194.28,397.49 L194.73,401.56 L195.18,405.61 L195.63,409.63 L196.09,413.62 L196.54,417.57 L196.99,421.49 L197.44,425.38 L197.89,429.22 L198.34,433.04 L198.79,436.81 L199.25,440.54 L199.70,444.24 L200.15,447.89 L200.60,451.51 L201.05,455.08 L201.50,458.61 L201.95,462.10 L202.41,465.55 L202.86,468.96 L203.31,472.32 L203.76,475.65 L204.21,478.93 L204.66,482.17 L205.11,485.37 L205.56,488.53 L206.02,491.65 L206.47,494.73 L206.92,497.77 L207.37,500.77 L207.82,503.73 L208.27,506.65 L208.72,509.53 L209.18,512.37 L209.63,515.18 L210.08,517.95 L210.53,520.68 L210.98,523.38 L211.43,526.04 L211.88,528.66 L212.33,531.25 L212.79,533.81 L213.24,536.33 L213.69,538.81 L214.14,541.27 L214.59,543.69 L215.04,546.08 L215.49,548.44 L215.95,550.76 L216.40,553.06 L216.85,555.33 L217.30,557.56 L217.75,559.77 L218.20,561.95 L218.65,564.10 L219.11,566.22 L219.56,568.31 L220.01,570.38 L220.46,572.42 L220.91,574.44 L221.36,576.43 L221.81,578.39 L222.26,580.33 L222.72,582.24 L223.17,584.13 L223.62,586.00 L224.07,587.84 L224.52,589.66 L224.97,591.45 L225.42,593.23 L225.88,594.98 L226.33,596.71 L226.78,598.42 L227.23,600.11 L227.68,601.78 L228.13,603.43 L228.58,605.06 L229.03,606.67 L229.49,608.26 L229.94,609.83 L230.39,611.38 L230.84,612.91 L231.29,614.43 L231.74,615.93 L232.19,617.41 L232.65,618.87 L233.10,620.32 L233.55,621.74 L234.00,623.16 L234.45,624.55 L234.90,625.94 L235.35,627.30 L235.81,628.65 L236.26,629.99 L236.71,631.31 L237.16,632.61 L237.61,633.90 L238.06,635.18 L238.51,636.44 L238.96,637.69 L239.42,638.92 L239.87,640.15 L240.32,641.35 L240.77,642.55 L241.22,643.73 L241.67,644.90 L242.12,646.06 L242.58,647.21 L243.03,648.34 L243.48,649.46 L243.93,650.57 L244.38,651.67 L244.83,652.75 L245.28,653.83 L245.73,654.89 L246.19,655.95 L246.64,656.99 L247.09,658.02 L247.54,659.04 L247.99,660.05 L248.44,661.06 L248.89,662.05 L249.35,663.03 L249.80,664.00 L250.25,664.96 L250.70,665.91 L251.15,666.86 L251.60,667.79 L252.05,668.72 L252.51,669.63 L252.96,670.54 L253.41,671.44 L253.86,672.33 L254.31,673.21 L254.76,674.08 L255.21,674.95 L255.66,675.80 L256.12,676.65 L256.57,677.49 L257.02,678.33 L257.47,679.15 L257.92,679.97 L258.37,680.78 L258.82,681.58 L259.73,683.17 L262.08,687.15 L264.42,690.96 L266.77,694.60 L269.12,698.08 L271.47,701.41 L273.82,704.60 L276.17,707.66 L278.52,710.60 L280.87,713.42 L283.22,716.12 L285.56,718.73 L287.91,721.23 L290.26,723.64 L292.61,725.97 L294.96,728.21 L297.31,730.37 L299.66,732.45 L302.01,734.46 L304.35,736.41 L306.70,738.29 L309.05,740.10 L311.40,741.86 L313.75,743.56 L316.10,745.21 L318.45,746.81 L320.80,748.36 L323.15,749.86 L325.49,751.31 L327.84,752.72 L330.19,754.10 L332.54,755.43 L334.89,756.72 L337.24,757.98 L339.59,759.20 L341.94,760.39 L344.28,761.55 L346.63,762.68 L348.98,763.77 L351.33,764.84 L353.68,765.88 L356.03,766.90 L358.38,767.89 L360.73,768.85 L363.08,769.79 L365.42,770.71 L367.77,771.60 L370.12,772.47 L372.47,773.33 L374.82,774.16 L377.17,774.97 L379.52,775.77 L381.87,776.54 L384.21,777.30 L386.56,778.05 L388.91,778.77 L391.26,779.48 L393.61,780.18 L395.96,780.86 L398.31,781.52 L400.66,782.17 L403.01,782.81 L405.35,783.44 L407.70,784.05 L410.05,784.65 L412.40,785.23 L414.75,785.81 L417.10,786.37 L419.45,786.93 L421.80,787.47 L424.14,788.00 L426.49,788.53 L428.84,789.04 L431.19,789.54 L433.54,790.03 L435.89,790.52 L438.24,790.99 L440.59,791.46 L442.94,791.92 L445.28,792.37 L447.63,792.81 L449.98,793.24 L452.33,793.67 L454.68,794.09 L457.03,794.50 L459.38,794.91 L461.73,795.31 L464.08,795.70 L466.42,796.08 L468.77,796.46 L471.12,796.83 L473.47,797.20 L475.82,797.56 L478.17,797.91 L480.52,798.26 L482.87,798.61 L485.21,798.94 L487.56,799.28 L489.91,799.60 L492.26,799.93 L494.61,800.24 L496.96,800.56 L499.31,800.87 L501.66,801.17 L504.01,801.47 L506.35,801.76 L508.70,802.05 L511.05,802.34 L513.40,802.62 L515.75,802.90 L518.10,803.17 L520.45,803.44 L522.80,803.71 L525.14,803.97 L527.49,804.23 L529.84,804.48 L532.19,804.73 L534.54,804.98 L536.89,805.23 L539.24,805.47 L541.59,805.70 L543.94,805.94 L546.28,806.17 L548.63,806.40 L550.98,806.62 L553.33,806.85 L555.68,807.07 L558.03,807.28 L560.38,807.50 L562.73,807.71 L565.07,807.92 L567.42,808.12 L569.77,808.33 L572.12,808.53 L574.47,808.73 L576.82,808.92 L579.17,809.12 L581.52,809.31 L583.87,809.50 L586.21,809.68 L588.56,809.87 L590.91,810.05 L593.26,810.23 L595.61,810.41 L597.96,810.58 L600.31,810.76 L602.66,810.93 L605.00,811.10 L607.35,811.26 L609.70,811.43 L612.05,811.59 L614.40,811.76 L616.75,811.92 L619.10,812.07 L621.45,812.23 L623.80,812.38 L626.14,812.54 L628.49,812.69 L630.84,812.84 L633.19,812.99 L635.54,813.13 L637.89,813.28 L640.24,813.42 L642.59,813.56 L644.94,813.70 L647.28,813.84 L649.63,813.98 L651.98,814.11 L654.33,814.25 L656.68,814.38 L659.03,814.51 L661.38,814.64 L663.73,814.77 L666.07,814.90 L668.42,815.03 L670.77,815.15 L673.12,815.28 L675.47,815.40 L677.82,815.52 L680.17,815.64 L682.52,815.76 L684.87,815.88 L687.21,815.99 L689.56,816.11 L691.91,816.22 L694.26,816.34 L696.61,816.45 L698.96,816.56 L701.31,816.67 L703.66,816.78 L706.00,816.88 L708.35,816.99 L710.70,817.10 L713.05,817.20 L715.40,817.31 L717.75,817.41 L720.10,817.51 L722.45,817.61 L724.80,817.71 L727.14,817.81 L729.49,817.91 L731.84,818.01 L734.19,818.10 L736.54,818.20 L738.89,818.29 L741.24,818.39 L743.59,818.48 L745.93,818.57 L748.28,818.66 L750.63,818.75 L752.98,818.84 L755.33,818.93 L757.68,819.02 L760.03,819.11 L762.38,819.19 L764.73,819.28 L767.07,819.37 L769.42,819.45 L771.77,819.53 L774.12,819.62 L776.47,819.70 L778.82,819.78 L781.17,819.86 L783.52,819.94 L785.86,820.02 L788.21,820.10 L790.56,820.18 L792.91,820.26 L795.26,820.33 L797.61,820.41 L799.96,820.49 L802.31,820.56 L804.66,820.64 L807.00,820.71 L809.35,820.78 L811.70,820.86 L814.05,820.93 L816.40,821.00 L818.75,821.07 L821.10,821.14 L823.45,821.21 L825.80,821.28 L828.14,821.35 L830.49,821.42 L832.84,821.49 L835.19,821.55 L837.54,821.62 L839.89,821.69 L842.24,821.75 L844.59,821.82 L846.93,821.88 L849.28,821.95 L851.63,822.01 L853.98,822.07 L856.33,822.14 L858.68,822.20 L861.03,822.26 L863.38,822.32 L865.73,822.38 L868.07,822.44 L870.42,822.50 L872.77,822.56 L875.12,822.62 L877.47,822.68 L879.82,822.74 L882.17,822.80 L884.52,822.85 L886.86,822.91 L889.21,822.97 L891.56,823.02 L893.91,823.08 L896.26,823.13 L898.61,823.19 L900.96,823.24 L903.31,823.30 L905.66,823.35 L908.00,823.41 L910.35,823.46 L912.70,823.51 L915.05,823.56 L917.40,823.62 L919.75,823.67 L922.10,823.72 L924.45,823.77 L926.79,823.82 L929.14,823.87 L931.49,823.92 L933.84,823.97 L936.19,824.02 L938.54,824.07 L940.89,824.12 L943.24,824.17 L945.59,824.21 L947.93,824.26 L950.28,824.31 L952.63,824.36 L954.98,824.40 L957.33,824.45 L959.68,824.50 L962.03,824.54" fill="none" stroke="#6a6a6a" stroke-opacity="0.55" stroke-width="4.4" stroke-linejoin="round" stroke-linecap="butt"/>
<path d="M150.50,222.80 L150.95,222.80 L151.40,222.80 L151.85,222.80 L152.31,222.80 L152.76,222.80 L153.21,222.80 L153.66,222.80 L154.11,222.80 L154.56,222.80 L155.01,222.80 L155.46,222.80 L155.92,222.80 L156.37,222.80 L156.82,222.80 L157.27,222.88 L157.72,222.91 L158.17,222.94 L158.62,222.97 L159.08,223.02 L159.53,223.07 L159.98,223.13 L160.43,223.20 L160.88,223.29 L161.33,223.39 L161.78,223.51 L162.24,223.64 L162.69,223.80 L163.14,223.97 L163.59,224.17 L164.04,224.40 L164.49,224.65 L164.94,224.94 L165.39,225.26 L165.85,225.62 L166.30,226.01 L166.75,226.45 L167.20,226.94 L167.65,227.48 L168.10,228.07 L168.55,228.71 L169.01,229.42 L169.46,230.19 L169.91,231.03 L170.36,231.93 L170.81,232.92 L171.26,233.97 L171.71,235.12 L172.16,236.34 L172.62,237.65 L173.07,239.06 L173.52,240.56 L173.97,242.15 L174.42,243.85 L174.87,245.64 L175.32,247.54 L175.78,249.54 L176.23,251.65 L176.68,253.87 L177.13,256.19 L177.58,258.62 L178.03,261.16 L178.48,263.80 L178.94,266.55 L179.39,269.40 L179.84,272.36 L180.29,275.41 L180.74,278.57 L181.19,281.81 L181.64,285.15 L182.09,288.57 L182.55,292.08 L183.00,295.67 L183.45,299.33 L183.90,303.06 L184.35,306.85 L184.80,310.71 L185.25,314.62 L185.71,318.59 L186.16,322.60 L186.61,326.65 L187.06,330.74 L187.51,334.85 L187.96,339.00 L188.41,343.17 L188.86,347.35 L189.32,351.55 L189.77,355.75 L190.22,359.96 L190.67,364.17 L191.12,368.38 L191.57,372.58 L192.02,376.78 L192.48,380.96 L192.93,385.12 L193.38,389.26 L193.83,393.39 L194.28,397.49 L194.73,401.56 L195.18,405.61 L195.63,409.63 L196.09,413.62 L196.54,417.57 L196.99,421.49 L197.44,425.38 L197.89,429.22 L198.34,433.04 L198.79,436.81 L199.25,440.54 L199.70,444.24 L200.15,447.89 L200.60,451.51 L201.05,455.08 L201.50,458.61 L201.95,462.10 L202.41,465.55 L202.86,468.96 L203.31,472.32 L203.76,475.65 L204.21,478.93 L204.66,482.17 L205.11,485.37 L205.56,488.53 L206.02,491.65 L206.47,494.73 L206.92,497.77 L207.37,500.77 L207.82,503.73 L208.27,506.65 L208.72,509.53 L209.18,512.37 L209.63,515.18 L210.08,517.95 L210.53,520.68 L210.98,523.38 L211.43,526.04 L211.88,528.66 L212.33,531.25 L212.79,533.81 L213.24,536.33 L213.69,538.81 L214.14,541.27 L214.59,543.69 L215.04,546.08 L215.49,548.44 L215.95,550.76 L216.40,553.06 L216.85,555.33 L217.30,557.56 L217.75,559.77 L218.20,561.95 L218.65,564.10 L219.11,566.22 L219.56,568.31 L220.01,570.38 L220.46,572.42 L220.91,574.44 L221.36,576.43 L221.81,578.39 L222.26,580.33 L222.72,582.24 L223.17,584.13 L223.62,586.00 L224.07,587.84 L224.52,589.66 L224.97,591.45 L225.42,593.23 L225.88,594.98 L226.33,596.71 L226.78,598.42 L227.23,600.11 L227.68,601.78 L228.13,603.43 L228.58,605.06 L229.03,606.67 L229.49,608.26 L229.94,609.83 L230.39,611.38 L230.84,612.91 L231.29,614.43 L231.74,615.93 L232.19,617.41 L232.65,618.87 L233.10,620.32 L233.55,621.74 L234.00,623.16 L234.45,624.55 L234.90,625.94 L235.35,627.30 L235.81,628.65 L236.26,629.99 L236.71,631.31 L237.16,632.61 L237.61,633.90 L238.06,635.18 L238.51,636.44 L238.96,637.69 L239.42,638.92 L239.87,640.15 L240.32,641.35 L240.77,642.55 L241.22,643.73 L241.67,644.90 L242.12,646.06 L242.58,647.21 L243.03,648.34 L243.48,649.46 L243.93,650.57 L244.38,651.67 L244.83,652.75 L245.28,653.83 L245.73,654.89 L246.19,655.95 L246.64,656.99 L247.09,658.02 L247.54,659.04 L247.99,660.05 L248.44,661.06 L248.89,662.05 L249.35,663.03 L249.80,664.00 L250.25,664.96 L250.70,665.91 L251.15,666.86 L251.60,667.79 L252.05,668.72 L252.51,669.63 L252.96,670.54 L253.41,671.44 L253.86,672.33 L254.31,673.21 L254.76,674.08 L255.21,674.95 L255.66,675.80 L256.12,676.65 L256.57,677.49 L257.02,678.33 L257.47,679.15 L257.92,679.97 L258.37,680.78 L258.82,681.58 L259.73,683.17 L262.08,687.15 L264.42,690.96 L266.77,694.60 L269.12,698.08 L271.47,701.41 L273.82,704.60 L276.17,707.66 L278.52,710.60 L280.87,713.42 L283.22,716.12 L285.56,718.73 L287.91,721.23 L290.26,723.64 L292.61,725.97 L294.96,728.21 L297.31,730.37 L299.66,732.45 L302.01,734.46 L304.35,736.41 L306.70,738.29 L309.05,740.10 L311.40,741.86 L313.75,743.56 L316.10,745.21 L318.45,746.81 L320.80,748.36 L323.15,749.86 L325.49,751.31 L327.84,752.72 L330.19,754.10 L332.54,755.43 L334.89,756.72 L337.24,757.98 L339.59,759.20 L341.94,760.39 L344.28,761.55 L346.63,762.68 L348.98,763.77 L351.33,764.84 L353.68,765.88 L356.03,766.90 L358.38,767.89 L360.73,768.85 L363.08,769.79 L365.42,770.71 L367.77,771.60 L370.12,772.47 L372.47,773.33 L374.82,774.16 L377.17,774.97 L379.52,775.77 L381.87,776.54 L384.21,777.30 L386.56,778.05 L388.91,778.77 L391.26,779.48 L393.61,780.18 L395.96,780.86 L398.31,781.52 L400.66,782.17 L403.01,782.81 L405.35,783.44 L407.70,784.05 L410.05,784.65 L412.40,785.23 L414.75,785.81 L417.10,786.37 L419.45,786.93 L421.80,787.47 L424.14,788.00 L426.49,788.53 L428.84,789.04 L431.19,789.54 L433.54,790.03 L435.89,790.52 L438.24,790.99 L440.59,791.46 L442.94,791.92 L445.28,792.37 L447.63,792.81 L449.98,793.24 L452.33,793.67 L454.68,794.09 L457.03,794.50 L459.38,794.91 L461.73,795.31 L464.08,795.70 L466.42,796.08 L468.77,796.46 L471.12,796.83 L473.47,797.20 L475.82,797.56 L478.17,797.91 L480.52,798.26 L482.87,798.61 L485.21,798.94 L487.56,799.28 L489.91,799.60 L492.26,799.93 L494.61,800.24 L496.96,800.56 L499.31,800.87 L501.66,801.17 L504.01,801.47 L506.35,801.76 L508.70,802.05 L511.05,802.34 L513.40,802.62 L515.75,802.90 L518.10,803.17 L520.45,803.44 L522.80,803.71 L525.14,803.97 L527.49,804.23 L529.84,804.48 L532.19,804.73 L534.54,804.98 L536.89,805.23 L539.24,805.47 L541.59,805.70 L543.94,805.94 L546.28,806.17 L548.63,806.40 L550.98,806.62 L553.33,806.85 L555.68,807.07 L558.03,807.28 L560.38,807.50 L562.73,807.71 L565.07,807.92 L567.42,808.12 L569.77,808.33 L572.12,808.53 L574.47,808.73 L576.82,808.92 L579.17,809.12 L581.52,809.31 L583.87,809.50 L586.21,809.68 L588.56,809.87 L590.91,810.05 L593.26,810.23 L595.61,810.41 L597.96,810.58 L600.31,810.76 L602.66,810.93 L605.00,811.10 L607.35,811.26 L609.70,811.43 L612.05,811.59 L614.40,811.76 L616.75,811.92 L619.10,812.07 L621.45,812.23 L623.80,812.38 L626.14,812.54 L628.49,812.69 L630.84,812.84 L633.19,812.99 L635.54,813.13 L637.89,813.28 L640.24,813.42 L642.59,813.56 L644.94,813.70 L647.28,813.84 L649.63,813.98 L651.98,814.11 L654.33,814.25 L656.68,814.38 L659.03,814.51 L661.38,814.64 L663.73,814.77 L666.07,814.90 L668.42,815.03 L670.77,815.15 L673.12,815.28 L675.47,815.40 L677.82,815.52 L680.17,815.64 L682.52,815.76 L684.87,815.88 L687.21,815.99 L689.56,816.11 L691.91,816.22 L694.26,816.34 L696.61,816.45 L698.96,816.56 L701.31,816.67 L703.66,816.78 L706.00,816.88 L708.35,816.99 L710.70,817.10 L713.05,817.20 L715.40,817.31 L717.75,817.41 L720.10,817.51 L722.45,817.61 L724.80,817.71 L727.14,817.81 L729.49,817.91 L731.84,818.01 L734.19,818.10 L736.54,818.20 L738.89,818.29 L741.24,818.39 L743.59,818.48 L745.93,818.57 L748.28,818.66 L750.63,818.75 L752.98,818.84 L755.33,818.93 L757.68,819.02 L760.03,819.11 L762.38,819.19 L764.73,819.28 L767.07,819.37 L769.42,819.45 L771.77,819.53 L774.12,819.62 L776.47,819.70 L778.82,819.78 L781.17,819.86 L783.52,819.94 L785.86,820.02 L788.21,820.10 L790.56,820.18 L792.91,820.26 L795.26,820.33 L797.61,820.41 L799.96,820.49 L802.31,820.56 L804.66,820.64 L807.00,820.71 L809.35,820.78 L811.70,820.86 L814.05,820.93 L816.40,821.00 L818.75,821.07 L821.10,821.14 L823.45,821.21 L825.80,821.28 L828.14,821.35 L830.49,821.42 L832.84,821.49 L835.19,821.55 L837.54,821.62 L839.89,821.69 L842.24,821.75 L844.59,821.82 L846.93,821.88 L849.28,821.95 L851.63,822.01 L853.98,822.07 L856.33,822.14 L858.68,822.20 L861.03,822.26 L863.38,822.32 L865.73,822.38 L868.07,822.44 L870.42,822.50 L872.77,822.56 L875.12,822.62 L877.47,822.68 L879.82,822.74 L882.17,822.80 L884.52,822.85 L886.86,822.91 L889.21,822.97 L891.56,823.02 L893.91,823.08 L896.26,823.13 L898.61,823.19 L900.96,823.24 L903.31,823.30 L905.66,823.35 L908.00,823.41 L910.35,823.46 L912.70,823.51 L915.05,823.56 L917.40,823.62 L919.75,823.67 L922.10,823.72 L924.45,823.77 L926.79,823.82 L929.14,823.87 L931.49,823.92 L933.84,823.97 L936.19,824.02 L938.54,824.07 L940.89,824.12 L943.24,824.17 L945.59,824.21 L947.93,824.26 L950.28,824.31 L952.63,824.36 L954.98,824.40 L957.33,824.45 L959.68,824.50 L962.03,824.54" fill="none" stroke="#C77CFF" stroke-width="3.5" stroke-linejoin="round" stroke-linecap="butt"/>
</g>
<rect x="110.9" y="63.9" width="891.7" height="809.2" fill="none" stroke="#B9B9B9" stroke-width="2"/>
<line x1="102.90" x2="110.90" y1="837.10" y2="837.10" stroke="#B3B3B3" stroke-width="1.42"/>
<line x1="102.90" x2="110.90" y1="683.53" y2="683.53" stroke="#B3B3B3" stroke-width="1.42"/>
<line x1="102.90" x2="110.90" y1="529.95" y2="529.95" stroke="#B3B3B3" stroke-width="1.42"/>
<line x1="102.90" x2="110.90" y1="376.38" y2="376.38" stroke="#B3B3B3" stroke-width="1.42"/>
<line x1="102.90" x2="110.90" y1="222.80" y2="222.80" stroke="#B3B3B3" stroke-width="1.42"/>
<line x1="102.90" x2="110.90" y1="69.23" y2="69.23" stroke="#B3B3B3" stroke-width="1.42"/>
<line y1="873.10" y2="880.43" x1="150.50" x2="150.50" stroke="#B3B3B3" stroke-width="1.42"/>
<line y1="873.10" y2="880.43" x1="376.17" x2="376.17" stroke="#B3B3B3" stroke-width="1.42"/>
<line y1="873.10" y2="880.43" x1="601.85" x2="601.85" stroke="#B3B3B3" stroke-width="1.42"/>
<line y1="873.10" y2="880.43" x1="827.52" x2="827.52" stroke="#B3B3B3" stroke-width="1.42"/>
<g opacity="0.999">
<text x="97.3" y="845.50" font-size="23.47" fill="#4D4D4D" text-anchor="end">0.00</text>
<text x="97.3" y="691.93" font-size="23.47" fill="#4D4D4D" text-anchor="end">0.25</text>
<text x="97.3" y="538.35" font-size="23.47" fill="#4D4D4D" text-anchor="end">0.50</text>
<text x="97.3" y="384.78" font-size="23.47" fill="#4D4D4D" text-anchor="end">0.75</text>
<text x="97.3" y="231.20" font-size="23.47" fill="#4D4D4D" text-anchor="end">1.00</text>
<text x="97.3" y="77.63" font-size="23.47" fill="#4D4D4D" text-anchor="end">1.25</text>
<text x="150.50" y="904.3" font-size="23.47" fill="#4D4D4D" text-anchor="middle">0</text>
<text x="376.17" y="904.3" font-size="23.47" fill="#4D4D4D" text-anchor="middle">25</text>
<text x="601.85" y="904.3" font-size="23.47" fill="#4D4D4D" text-anchor="middle">50</text>
<text x="827.52" y="904.3" font-size="23.47" fill="#4D4D4D" text-anchor="middle">75</text>
<text x="110.3" y="40.6" font-size="35.2" fill="#000">Power Model</text>
<text x="556.75" y="937.6" font-size="29.33" fill="#000" text-anchor="middle">Time</text>
<text transform="translate(36.3,468.50) rotate(-90)" style="font-kerning:none" font-size="29.33" fill="#000" text-anchor="middle">Value</text>
<text x="1046.6" y="283.4" font-size="29.33" fill="#000">Outcome</text>
<line x1="1051.6" x2="1088.5" y1="324.20" y2="324.20" stroke="#F8766D" stroke-width="3.4"/>
<circle cx="1070.05" cy="324.20" r="6.1" fill="#F8766D"/>
<text x="1108" y="332.80" font-size="23.47" fill="#000">AIF</text>
<line x1="1051.6" x2="1088.5" y1="370.28" y2="370.28" stroke="#7CAE00" stroke-width="3.4"/>
<circle cx="1070.05" cy="370.28" r="6.1" fill="#7CAE00"/>
<text x="1108" y="378.88" font-size="23.47" fill="#000">Blood</text>
<line x1="1051.6" x2="1088.5" y1="416.36" y2="416.36" stroke="#00BFC4" stroke-width="3.4"/>
<circle cx="1070.05" cy="416.36" r="6.1" fill="#00BFC4"/>
<text x="1108" y="424.96" font-size="23.47" fill="#000">Blood-Plasma Ratio</text>
<line x1="1051.6" x2="1088.5" y1="462.44" y2="462.44" stroke="#C77CFF" stroke-width="3.4"/>
<circle cx="1070.05" cy="462.44" r="6.1" fill="#C77CFF"/>
<text x="1108" y="471.04" font-size="23.47" fill="#000" letter-spacing="-0.1">Parent Fraction</text>
<text x="1046.6" y="569.4" font-size="29.33" fill="#000" letter-spacing="-0.31">Measurement</text>
<circle cx="1070.05" cy="610.30" r="5.2" fill="none" stroke="#000" stroke-width="1.8"/>
<text x="1108" y="618.90" font-size="23.47" fill="#000" letter-spacing="-0.17">Continuous</text>
<circle cx="1070.05" cy="656.40" r="5.1" fill="#000"/>
<text x="1108" y="665.00" font-size="23.47" fill="#000">Discrete</text>
</g>
</svg>
</body></html>
